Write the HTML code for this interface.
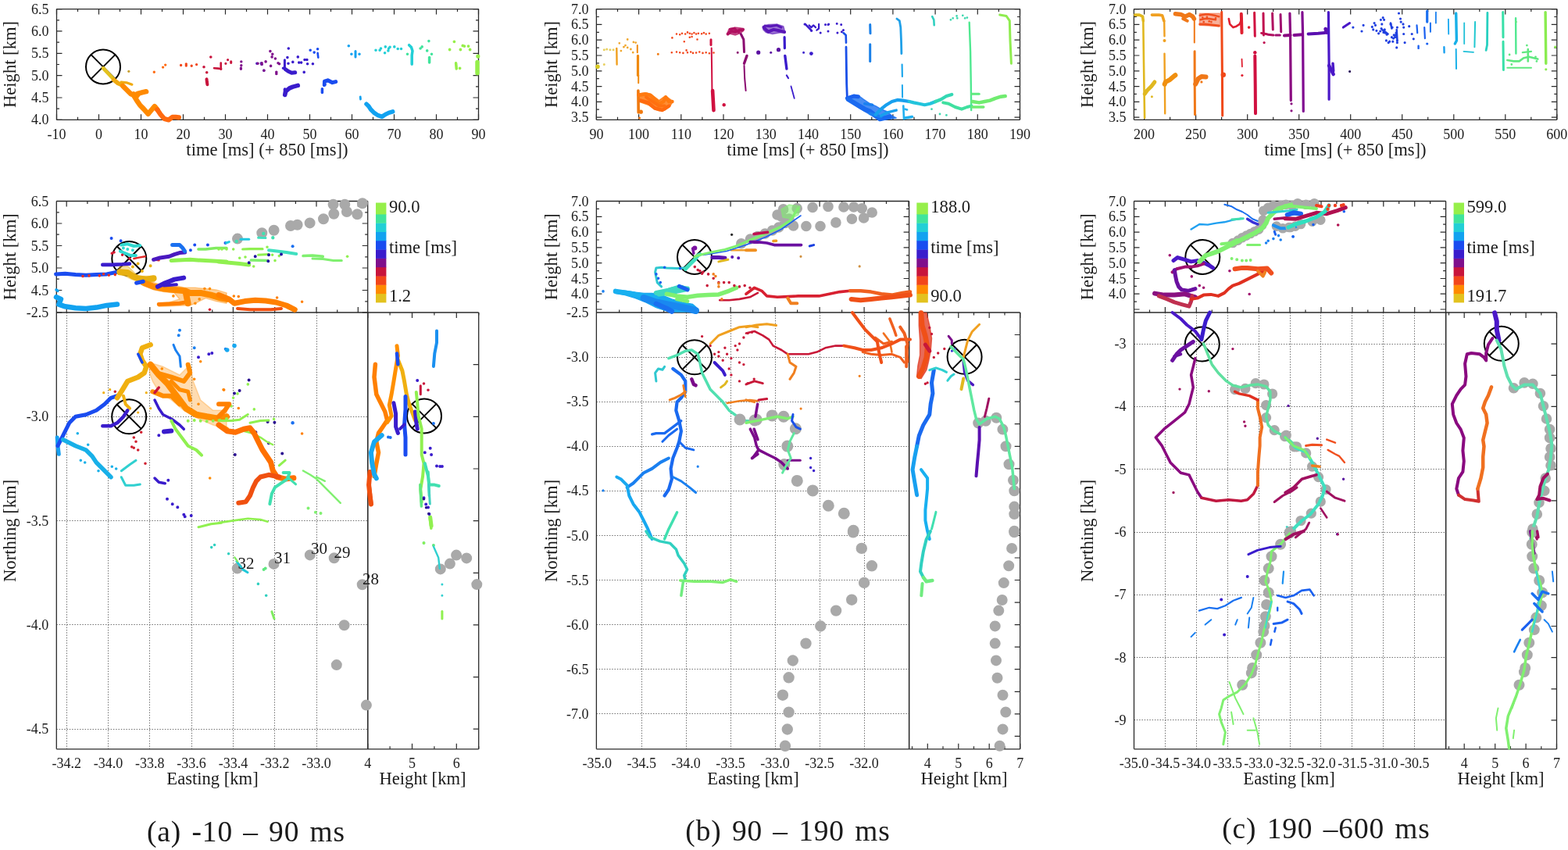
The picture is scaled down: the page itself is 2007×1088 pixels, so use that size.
<!DOCTYPE html><html><head><meta charset="utf-8"><title>figure</title><style>
html,body{margin:0;padding:0;background:#fff;overflow:hidden}
svg{display:block} text{font-family:'Liberation Serif', 'DejaVu Serif', serif;fill:#1a1a1a}
.fr{stroke:#2a2a2a;stroke-width:1.3;fill:none} .tk{stroke:#2a2a2a;stroke-width:1.2;fill:none}
.gr{stroke:#707070;stroke-width:1;stroke-dasharray:1.5 1.8;fill:none}
.cx{stroke:#000;stroke-width:2;fill:none}
</style></head><body>
<svg width="2007" height="1088" viewBox="0 0 2007 1088">
<rect width="2007" height="1088" fill="#fff"/>
<path d="M85.5 400.0V958.8M138.5 400.0V958.8M191.5 400.0V958.8M245.5 400.0V958.8M298.5 400.0V958.8M351.5 400.0V958.8M405.5 400.0V958.8" class="gr"/>
<path d="M72.3 933.5H470.7M72.3 799.5H470.7M72.3 666.5H470.7M72.3 533.5H470.7" class="gr"/>
<path d="M821.5 400.0V958.8M878.5 400.0V958.8M935.5 400.0V958.8M992.5 400.0V958.8M1049.5 400.0V958.8M1106.5 400.0V958.8" class="gr"/>
<path d="M763.4 913.5H1163.6M763.4 856.5H1163.6M763.4 799.5H1163.6M763.4 742.5H1163.6M763.4 685.5H1163.6M763.4 628.5H1163.6M763.4 571.5H1163.6M763.4 514.5H1163.6M763.4 457.5H1163.6" class="gr"/>
<path d="M1491.5 400.0V958.8M1531.5 400.0V958.8M1571.5 400.0V958.8M1611.5 400.0V958.8M1651.5 400.0V958.8M1690.5 400.0V958.8M1730.5 400.0V958.8M1770.5 400.0V958.8M1810.5 400.0V958.8" class="gr"/>
<path d="M1451.5 921.5H1850.6M1451.5 841.5H1850.6M1451.5 761.5H1850.6M1451.5 681.5H1850.6M1451.5 600.5H1850.6M1451.5 520.5H1850.6M1451.5 440.5H1850.6" class="gr"/>
<line x1="72.5" y1="11.6" x2="612.5" y2="11.6" class="fr"/>
<line x1="72.5" y1="153.3" x2="612.5" y2="153.3" class="fr"/>
<line x1="72.5" y1="11.6" x2="72.5" y2="153.3" class="fr"/>
<line x1="612.5" y1="11.6" x2="612.5" y2="153.3" class="fr"/>
<path d="M72.5 153.3v-7M72.5 11.6v7M126.5 153.3v-7M126.5 11.6v7M180.5 153.3v-7M180.5 11.6v7M234.5 153.3v-7M234.5 11.6v7M288.5 153.3v-7M288.5 11.6v7M342.5 153.3v-7M342.5 11.6v7M396.5 153.3v-7M396.5 11.6v7M450.5 153.3v-7M450.5 11.6v7M504.5 153.3v-7M504.5 11.6v7M558.5 153.3v-7M558.5 11.6v7M612.5 153.3v-7M612.5 11.6v7" class="tk"/>
<path d="M99.5 153.3v-3.5M99.5 11.6v3.5M153.5 153.3v-3.5M153.5 11.6v3.5M207.5 153.3v-3.5M207.5 11.6v3.5M261.5 153.3v-3.5M261.5 11.6v3.5M315.5 153.3v-3.5M315.5 11.6v3.5M369.5 153.3v-3.5M369.5 11.6v3.5M423.5 153.3v-3.5M423.5 11.6v3.5M477.5 153.3v-3.5M477.5 11.6v3.5M531.5 153.3v-3.5M531.5 11.6v3.5M585.5 153.3v-3.5M585.5 11.6v3.5" class="tk"/>
<path d="M72.5 153.3h7M612.5 153.3h-7M72.5 125.0h7M612.5 125.0h-7M72.5 96.6h7M612.5 96.6h-7M72.5 68.3h7M612.5 68.3h-7M72.5 39.9h7M612.5 39.9h-7M72.5 11.6h7M612.5 11.6h-7" class="tk"/>
<path d="M72.5 139.1h3.5M612.5 139.1h-3.5M72.5 110.8h3.5M612.5 110.8h-3.5M72.5 82.5h3.5M612.5 82.5h-3.5M72.5 54.1h3.5M612.5 54.1h-3.5M72.5 25.8h3.5M612.5 25.8h-3.5" class="tk"/>
<text x="72.5" y="178.3" font-size="18" text-anchor="middle">-10</text>
<text x="126.5" y="178.3" font-size="18" text-anchor="middle">0</text>
<text x="180.5" y="178.3" font-size="18" text-anchor="middle">10</text>
<text x="234.5" y="178.3" font-size="18" text-anchor="middle">20</text>
<text x="288.5" y="178.3" font-size="18" text-anchor="middle">30</text>
<text x="342.5" y="178.3" font-size="18" text-anchor="middle">40</text>
<text x="396.5" y="178.3" font-size="18" text-anchor="middle">50</text>
<text x="450.5" y="178.3" font-size="18" text-anchor="middle">60</text>
<text x="504.5" y="178.3" font-size="18" text-anchor="middle">70</text>
<text x="558.5" y="178.3" font-size="18" text-anchor="middle">80</text>
<text x="612.5" y="178.3" font-size="18" text-anchor="middle">90</text>
<text x="62.5" y="159.3" font-size="18" text-anchor="end">4.0</text>
<text x="62.5" y="131.0" font-size="18" text-anchor="end">4.5</text>
<text x="62.5" y="102.6" font-size="18" text-anchor="end">5.0</text>
<text x="62.5" y="74.3" font-size="18" text-anchor="end">5.5</text>
<text x="62.5" y="45.9" font-size="18" text-anchor="end">6.0</text>
<text x="62.5" y="17.6" font-size="18" text-anchor="end">6.5</text>
<text x="20.0" y="82.5" font-size="22.6" text-anchor="middle" transform="rotate(-90 20.0 82.5)">Height [km]</text>
<text x="342.0" y="199.3" font-size="22.6" text-anchor="middle">time [ms] (+ 850 [ms])</text>
<line x1="763.4" y1="11.6" x2="1305.5" y2="11.6" class="fr"/>
<line x1="763.4" y1="153.3" x2="1305.5" y2="153.3" class="fr"/>
<line x1="763.4" y1="11.6" x2="763.4" y2="153.3" class="fr"/>
<line x1="1305.5" y1="11.6" x2="1305.5" y2="153.3" class="fr"/>
<path d="M763.4 153.3v-7M763.4 11.6v7M817.6 153.3v-7M817.6 11.6v7M871.8 153.3v-7M871.8 11.6v7M926.0 153.3v-7M926.0 11.6v7M980.2 153.3v-7M980.2 11.6v7M1034.5 153.3v-7M1034.5 11.6v7M1088.7 153.3v-7M1088.7 11.6v7M1142.9 153.3v-7M1142.9 11.6v7M1197.1 153.3v-7M1197.1 11.6v7M1251.3 153.3v-7M1251.3 11.6v7M1305.5 153.3v-7M1305.5 11.6v7" class="tk"/>
<path d="M790.5 153.3v-3.5M790.5 11.6v3.5M844.7 153.3v-3.5M844.7 11.6v3.5M898.9 153.3v-3.5M898.9 11.6v3.5M953.1 153.3v-3.5M953.1 11.6v3.5M1007.3 153.3v-3.5M1007.3 11.6v3.5M1061.6 153.3v-3.5M1061.6 11.6v3.5M1115.8 153.3v-3.5M1115.8 11.6v3.5M1170.0 153.3v-3.5M1170.0 11.6v3.5M1224.2 153.3v-3.5M1224.2 11.6v3.5M1278.4 153.3v-3.5M1278.4 11.6v3.5" class="tk"/>
<path d="M763.4 150.1h7M1305.5 150.1h-7M763.4 130.3h7M1305.5 130.3h-7M763.4 110.6h7M1305.5 110.6h-7M763.4 90.8h7M1305.5 90.8h-7M763.4 71.0h7M1305.5 71.0h-7M763.4 51.2h7M1305.5 51.2h-7M763.4 31.4h7M1305.5 31.4h-7M763.4 11.6h7M1305.5 11.6h-7" class="tk"/>
<path d="M763.4 140.2h3.5M1305.5 140.2h-3.5M763.4 120.4h3.5M1305.5 120.4h-3.5M763.4 100.7h3.5M1305.5 100.7h-3.5M763.4 80.9h3.5M1305.5 80.9h-3.5M763.4 61.1h3.5M1305.5 61.1h-3.5M763.4 41.3h3.5M1305.5 41.3h-3.5M763.4 21.5h3.5M1305.5 21.5h-3.5" class="tk"/>
<text x="763.4" y="178.3" font-size="18" text-anchor="middle">90</text>
<text x="817.6" y="178.3" font-size="18" text-anchor="middle">100</text>
<text x="871.8" y="178.3" font-size="18" text-anchor="middle">110</text>
<text x="926.0" y="178.3" font-size="18" text-anchor="middle">120</text>
<text x="980.2" y="178.3" font-size="18" text-anchor="middle">130</text>
<text x="1034.5" y="178.3" font-size="18" text-anchor="middle">140</text>
<text x="1088.7" y="178.3" font-size="18" text-anchor="middle">150</text>
<text x="1142.9" y="178.3" font-size="18" text-anchor="middle">160</text>
<text x="1197.1" y="178.3" font-size="18" text-anchor="middle">170</text>
<text x="1251.3" y="178.3" font-size="18" text-anchor="middle">180</text>
<text x="1305.5" y="178.3" font-size="18" text-anchor="middle">190</text>
<text x="753.4" y="156.1" font-size="18" text-anchor="end">3.5</text>
<text x="753.4" y="136.3" font-size="18" text-anchor="end">4.0</text>
<text x="753.4" y="116.6" font-size="18" text-anchor="end">4.5</text>
<text x="753.4" y="96.8" font-size="18" text-anchor="end">5.0</text>
<text x="753.4" y="77.0" font-size="18" text-anchor="end">5.5</text>
<text x="753.4" y="57.2" font-size="18" text-anchor="end">6.0</text>
<text x="753.4" y="37.4" font-size="18" text-anchor="end">6.5</text>
<text x="753.4" y="17.6" font-size="18" text-anchor="end">7.0</text>
<text x="713.0" y="82.5" font-size="22.6" text-anchor="middle" transform="rotate(-90 713.0 82.5)">Height [km]</text>
<text x="1034.0" y="199.3" font-size="22.6" text-anchor="middle">time [ms] (+ 850 [ms])</text>
<line x1="1451.4" y1="11.6" x2="1992.8" y2="11.6" class="fr"/>
<line x1="1451.4" y1="153.3" x2="1992.8" y2="153.3" class="fr"/>
<line x1="1451.4" y1="11.6" x2="1451.4" y2="153.3" class="fr"/>
<line x1="1992.8" y1="11.6" x2="1992.8" y2="153.3" class="fr"/>
<path d="M1464.6 153.3v-7M1464.6 11.6v7M1530.6 153.3v-7M1530.6 11.6v7M1596.7 153.3v-7M1596.7 11.6v7M1662.7 153.3v-7M1662.7 11.6v7M1728.7 153.3v-7M1728.7 11.6v7M1794.7 153.3v-7M1794.7 11.6v7M1860.8 153.3v-7M1860.8 11.6v7M1926.8 153.3v-7M1926.8 11.6v7M1992.8 153.3v-7M1992.8 11.6v7" class="tk"/>
<path d="M1497.6 153.3v-3.5M1497.6 11.6v3.5M1563.6 153.3v-3.5M1563.6 11.6v3.5M1629.7 153.3v-3.5M1629.7 11.6v3.5M1695.7 153.3v-3.5M1695.7 11.6v3.5M1761.7 153.3v-3.5M1761.7 11.6v3.5M1827.7 153.3v-3.5M1827.7 11.6v3.5M1893.8 153.3v-3.5M1893.8 11.6v3.5M1959.8 153.3v-3.5M1959.8 11.6v3.5" class="tk"/>
<path d="M1451.4 150.1h7M1992.8 150.1h-7M1451.4 130.3h7M1992.8 130.3h-7M1451.4 110.6h7M1992.8 110.6h-7M1451.4 90.8h7M1992.8 90.8h-7M1451.4 71.0h7M1992.8 71.0h-7M1451.4 51.2h7M1992.8 51.2h-7M1451.4 31.4h7M1992.8 31.4h-7M1451.4 11.6h7M1992.8 11.6h-7" class="tk"/>
<path d="M1451.4 140.2h3.5M1992.8 140.2h-3.5M1451.4 120.4h3.5M1992.8 120.4h-3.5M1451.4 100.7h3.5M1992.8 100.7h-3.5M1451.4 80.9h3.5M1992.8 80.9h-3.5M1451.4 61.1h3.5M1992.8 61.1h-3.5M1451.4 41.3h3.5M1992.8 41.3h-3.5M1451.4 21.5h3.5M1992.8 21.5h-3.5" class="tk"/>
<text x="1464.6" y="178.3" font-size="18" text-anchor="middle">200</text>
<text x="1530.6" y="178.3" font-size="18" text-anchor="middle">250</text>
<text x="1596.7" y="178.3" font-size="18" text-anchor="middle">300</text>
<text x="1662.7" y="178.3" font-size="18" text-anchor="middle">350</text>
<text x="1728.7" y="178.3" font-size="18" text-anchor="middle">400</text>
<text x="1794.7" y="178.3" font-size="18" text-anchor="middle">450</text>
<text x="1860.8" y="178.3" font-size="18" text-anchor="middle">500</text>
<text x="1926.8" y="178.3" font-size="18" text-anchor="middle">550</text>
<text x="1992.8" y="178.3" font-size="18" text-anchor="middle">600</text>
<text x="1441.4" y="156.1" font-size="18" text-anchor="end">3.5</text>
<text x="1441.4" y="136.3" font-size="18" text-anchor="end">4.0</text>
<text x="1441.4" y="116.6" font-size="18" text-anchor="end">4.5</text>
<text x="1441.4" y="96.8" font-size="18" text-anchor="end">5.0</text>
<text x="1441.4" y="77.0" font-size="18" text-anchor="end">5.5</text>
<text x="1441.4" y="57.2" font-size="18" text-anchor="end">6.0</text>
<text x="1441.4" y="37.4" font-size="18" text-anchor="end">6.5</text>
<text x="1441.4" y="17.6" font-size="18" text-anchor="end">7.0</text>
<text x="1399.0" y="82.5" font-size="22.6" text-anchor="middle" transform="rotate(-90 1399.0 82.5)">Height [km]</text>
<text x="1722.0" y="199.3" font-size="22.6" text-anchor="middle">time [ms] (+ 850 [ms])</text>
<line x1="72.3" y1="257.5" x2="470.7" y2="257.5" class="fr"/>
<line x1="72.3" y1="257.5" x2="72.3" y2="400.0" class="fr"/>
<line x1="470.7" y1="257.5" x2="470.7" y2="400.0" class="fr"/>
<path d="M85.2 400.0v-7M85.2 257.5v7M138.5 400.0v-7M138.5 257.5v7M191.8 400.0v-7M191.8 257.5v7M245.1 400.0v-7M245.1 257.5v7M298.4 400.0v-7M298.4 257.5v7M351.7 400.0v-7M351.7 257.5v7M405.0 400.0v-7M405.0 257.5v7M458.3 400.0v-7M458.3 257.5v7" class="tk"/>
<path d="M111.9 400.0v-3.5M111.9 257.5v3.5M165.2 400.0v-3.5M165.2 257.5v3.5M218.5 400.0v-3.5M218.5 257.5v3.5M271.8 400.0v-3.5M271.8 257.5v3.5M325.1 400.0v-3.5M325.1 257.5v3.5M378.4 400.0v-3.5M378.4 257.5v3.5M431.7 400.0v-3.5M431.7 257.5v3.5" class="tk"/>
<path d="M72.3 400.0h7M470.7 400.0h-7M72.3 371.5h7M470.7 371.5h-7M72.3 343.0h7M470.7 343.0h-7M72.3 314.5h7M470.7 314.5h-7M72.3 286.0h7M470.7 286.0h-7M72.3 257.5h7M470.7 257.5h-7" class="tk"/>
<path d="M72.3 385.8h3.5M470.7 385.8h-3.5M72.3 357.2h3.5M470.7 357.2h-3.5M72.3 328.8h3.5M470.7 328.8h-3.5M72.3 300.2h3.5M470.7 300.2h-3.5M72.3 271.8h3.5M470.7 271.8h-3.5" class="tk"/>
<text x="62.3" y="377.5" font-size="18" text-anchor="end">4.5</text>
<text x="62.3" y="349.0" font-size="18" text-anchor="end">5.0</text>
<text x="62.3" y="320.5" font-size="18" text-anchor="end">5.5</text>
<text x="62.3" y="292.0" font-size="18" text-anchor="end">6.0</text>
<text x="62.3" y="263.5" font-size="18" text-anchor="end">6.5</text>
<text x="20.0" y="328.8" font-size="22.6" text-anchor="middle" transform="rotate(-90 20.0 328.8)">Height [km]</text>
<line x1="72.3" y1="400.0" x2="470.7" y2="400.0" class="fr"/>
<line x1="72.3" y1="958.8" x2="470.7" y2="958.8" class="fr"/>
<line x1="72.3" y1="400.0" x2="72.3" y2="958.8" class="fr"/>
<line x1="470.7" y1="400.0" x2="470.7" y2="958.8" class="fr"/>
<text x="85.2" y="982.8" font-size="18" text-anchor="middle">-34.2</text>
<text x="138.5" y="982.8" font-size="18" text-anchor="middle">-34.0</text>
<text x="191.8" y="982.8" font-size="18" text-anchor="middle">-33.8</text>
<text x="245.1" y="982.8" font-size="18" text-anchor="middle">-33.6</text>
<text x="298.4" y="982.8" font-size="18" text-anchor="middle">-33.4</text>
<text x="351.7" y="982.8" font-size="18" text-anchor="middle">-33.2</text>
<text x="405.0" y="982.8" font-size="18" text-anchor="middle">-33.0</text>
<text x="62.3" y="939.2" font-size="18" text-anchor="end">-4.5</text>
<text x="62.3" y="805.9" font-size="18" text-anchor="end">-4.0</text>
<text x="62.3" y="672.6" font-size="18" text-anchor="end">-3.5</text>
<text x="62.3" y="539.3" font-size="18" text-anchor="end">-3.0</text>
<text x="62.3" y="406.0" font-size="18" text-anchor="end">-2.5</text>
<text x="20.0" y="679.4" font-size="22.6" text-anchor="middle" transform="rotate(-90 20.0 679.4)">Northing [km]</text>
<text x="272.0" y="1003.8" font-size="22.6" text-anchor="middle">Easting [km]</text>
<line x1="470.7" y1="400.0" x2="612.7" y2="400.0" class="fr"/>
<line x1="470.7" y1="958.8" x2="612.7" y2="958.8" class="fr"/>
<line x1="470.7" y1="400.0" x2="470.7" y2="958.8" class="fr"/>
<line x1="612.7" y1="400.0" x2="612.7" y2="958.8" class="fr"/>
<path d="M470.7 958.8v-7M470.7 400.0v7M527.5 958.8v-7M527.5 400.0v7M584.3 958.8v-7M584.3 400.0v7" class="tk"/>
<path d="M499.1 958.8v-3.5M499.1 400.0v3.5M555.9 958.8v-3.5M555.9 400.0v3.5M612.7 958.8v-3.5M612.7 400.0v3.5" class="tk"/>
<path d="M612.7 933.2h-7M612.7 866.6h-7M612.7 799.9h-7M612.7 733.3h-7M612.7 666.6h-7M612.7 600.0h-7M612.7 533.3h-7M612.7 466.7h-7" class="tk"/>
<text x="470.7" y="982.8" font-size="18" text-anchor="middle">4</text>
<text x="527.5" y="982.8" font-size="18" text-anchor="middle">5</text>
<text x="584.3" y="982.8" font-size="18" text-anchor="middle">6</text>
<text x="541.0" y="1003.8" font-size="22.6" text-anchor="middle">Height [km]</text>
<rect x="481.0" y="375.70" width="13.4" height="11.70" fill="#e3c21f"/>
<rect x="481.0" y="364.40" width="13.4" height="11.70" fill="#ff8a00"/>
<rect x="481.0" y="353.10" width="13.4" height="11.70" fill="#f2461a"/>
<rect x="481.0" y="341.80" width="13.4" height="11.70" fill="#c8143c"/>
<rect x="481.0" y="330.50" width="13.4" height="11.70" fill="#7f0f8c"/>
<rect x="481.0" y="319.20" width="13.4" height="11.70" fill="#3a1ccc"/>
<rect x="481.0" y="307.90" width="13.4" height="11.70" fill="#1a4cf0"/>
<rect x="481.0" y="296.60" width="13.4" height="11.70" fill="#12a2f0"/>
<rect x="481.0" y="285.30" width="13.4" height="11.70" fill="#22cfd6"/>
<rect x="481.0" y="274.00" width="13.4" height="11.70" fill="#40e49c"/>
<rect x="481.0" y="259.50" width="13.4" height="14.90" fill="#96ef4a"/>
<text x="497.9" y="271.5" font-size="22.6" text-anchor="start">90.0</text>
<text x="497.9" y="323.6" font-size="22.6" text-anchor="start">time [ms]</text>
<text x="497.9" y="386.0" font-size="22.6" text-anchor="start">1.2</text>
<line x1="763.4" y1="257.5" x2="1163.6" y2="257.5" class="fr"/>
<line x1="763.4" y1="257.5" x2="763.4" y2="400.0" class="fr"/>
<line x1="1163.6" y1="257.5" x2="1163.6" y2="400.0" class="fr"/>
<path d="M821.2 400.0v-7M821.2 257.5v7M878.1 400.0v-7M878.1 257.5v7M935.1 400.0v-7M935.1 257.5v7M992.1 400.0v-7M992.1 257.5v7M1049.1 400.0v-7M1049.1 257.5v7M1106.1 400.0v-7M1106.1 257.5v7M1163.0 400.0v-7M1163.0 257.5v7" class="tk"/>
<path d="M792.7 400.0v-3.5M792.7 257.5v3.5M849.7 400.0v-3.5M849.7 257.5v3.5M906.6 400.0v-3.5M906.6 257.5v3.5M963.6 400.0v-3.5M963.6 257.5v3.5M1020.6 400.0v-3.5M1020.6 257.5v3.5M1077.6 400.0v-3.5M1077.6 257.5v3.5M1134.5 400.0v-3.5M1134.5 257.5v3.5" class="tk"/>
<path d="M763.4 396.0h7M1163.6 396.0h-7M763.4 376.2h7M1163.6 376.2h-7M763.4 356.5h7M1163.6 356.5h-7M763.4 336.7h7M1163.6 336.7h-7M763.4 316.9h7M1163.6 316.9h-7M763.4 297.1h7M1163.6 297.1h-7M763.4 277.3h7M1163.6 277.3h-7M763.4 257.5h7M1163.6 257.5h-7" class="tk"/>
<path d="M763.4 386.1h3.5M1163.6 386.1h-3.5M763.4 366.4h3.5M1163.6 366.4h-3.5M763.4 346.6h3.5M1163.6 346.6h-3.5M763.4 326.8h3.5M1163.6 326.8h-3.5M763.4 307.0h3.5M1163.6 307.0h-3.5M763.4 287.2h3.5M1163.6 287.2h-3.5M763.4 267.4h3.5M1163.6 267.4h-3.5" class="tk"/>
<text x="753.4" y="382.2" font-size="18" text-anchor="end">4.0</text>
<text x="753.4" y="362.5" font-size="18" text-anchor="end">4.5</text>
<text x="753.4" y="342.7" font-size="18" text-anchor="end">5.0</text>
<text x="753.4" y="322.9" font-size="18" text-anchor="end">5.5</text>
<text x="753.4" y="303.1" font-size="18" text-anchor="end">6.0</text>
<text x="753.4" y="283.3" font-size="18" text-anchor="end">6.5</text>
<text x="753.4" y="263.5" font-size="18" text-anchor="end">7.0</text>
<text x="713.0" y="328.8" font-size="22.6" text-anchor="middle" transform="rotate(-90 713.0 328.8)">Height [km]</text>
<line x1="763.4" y1="400.0" x2="1163.6" y2="400.0" class="fr"/>
<line x1="763.4" y1="958.8" x2="1163.6" y2="958.8" class="fr"/>
<line x1="763.4" y1="400.0" x2="763.4" y2="958.8" class="fr"/>
<line x1="1163.6" y1="400.0" x2="1163.6" y2="958.8" class="fr"/>
<text x="764.2" y="982.8" font-size="18" text-anchor="middle">-35.0</text>
<text x="821.2" y="982.8" font-size="18" text-anchor="middle">-34.5</text>
<text x="878.1" y="982.8" font-size="18" text-anchor="middle">-34.0</text>
<text x="935.1" y="982.8" font-size="18" text-anchor="middle">-33.5</text>
<text x="992.1" y="982.8" font-size="18" text-anchor="middle">-33.0</text>
<text x="1049.1" y="982.8" font-size="18" text-anchor="middle">-32.5</text>
<text x="1106.1" y="982.8" font-size="18" text-anchor="middle">-32.0</text>
<text x="753.4" y="919.8" font-size="18" text-anchor="end">-7.0</text>
<text x="753.4" y="862.7" font-size="18" text-anchor="end">-6.5</text>
<text x="753.4" y="805.6" font-size="18" text-anchor="end">-6.0</text>
<text x="753.4" y="748.5" font-size="18" text-anchor="end">-5.5</text>
<text x="753.4" y="691.5" font-size="18" text-anchor="end">-5.0</text>
<text x="753.4" y="634.4" font-size="18" text-anchor="end">-4.5</text>
<text x="753.4" y="577.3" font-size="18" text-anchor="end">-4.0</text>
<text x="753.4" y="520.2" font-size="18" text-anchor="end">-3.5</text>
<text x="753.4" y="463.1" font-size="18" text-anchor="end">-3.0</text>
<text x="753.4" y="406.0" font-size="18" text-anchor="end">-2.5</text>
<text x="713.0" y="679.4" font-size="22.6" text-anchor="middle" transform="rotate(-90 713.0 679.4)">Northing [km]</text>
<text x="964.0" y="1003.8" font-size="22.6" text-anchor="middle">Easting [km]</text>
<line x1="1163.6" y1="400.0" x2="1305.7" y2="400.0" class="fr"/>
<line x1="1163.6" y1="958.8" x2="1305.7" y2="958.8" class="fr"/>
<line x1="1163.6" y1="400.0" x2="1163.6" y2="958.8" class="fr"/>
<line x1="1305.7" y1="400.0" x2="1305.7" y2="958.8" class="fr"/>
<path d="M1187.3 958.8v-7M1187.3 400.0v7M1226.8 958.8v-7M1226.8 400.0v7M1266.2 958.8v-7M1266.2 400.0v7M1305.7 958.8v-7M1305.7 400.0v7" class="tk"/>
<path d="M1167.5 958.8v-3.5M1167.5 400.0v3.5M1207.0 958.8v-3.5M1207.0 400.0v3.5M1246.5 958.8v-3.5M1246.5 400.0v3.5M1286.0 958.8v-3.5M1286.0 400.0v3.5" class="tk"/>
<path d="M1305.7 942.4h-7M1305.7 913.8h-7M1305.7 885.3h-7M1305.7 856.7h-7M1305.7 828.2h-7M1305.7 799.6h-7M1305.7 771.1h-7M1305.7 742.5h-7M1305.7 714.0h-7M1305.7 685.5h-7M1305.7 656.9h-7M1305.7 628.4h-7M1305.7 599.8h-7M1305.7 571.3h-7M1305.7 542.7h-7M1305.7 514.2h-7M1305.7 485.6h-7M1305.7 457.1h-7M1305.7 428.5h-7" class="tk"/>
<text x="1187.3" y="982.8" font-size="18" text-anchor="middle">4</text>
<text x="1226.8" y="982.8" font-size="18" text-anchor="middle">5</text>
<text x="1266.2" y="982.8" font-size="18" text-anchor="middle">6</text>
<text x="1305.7" y="982.8" font-size="18" text-anchor="middle">7</text>
<text x="1234.0" y="1003.8" font-size="22.6" text-anchor="middle">Height [km]</text>
<rect x="1173.3" y="375.70" width="14.5" height="11.70" fill="#e3c21f"/>
<rect x="1173.3" y="364.40" width="14.5" height="11.70" fill="#ff8a00"/>
<rect x="1173.3" y="353.10" width="14.5" height="11.70" fill="#f2461a"/>
<rect x="1173.3" y="341.80" width="14.5" height="11.70" fill="#c8143c"/>
<rect x="1173.3" y="330.50" width="14.5" height="11.70" fill="#7f0f8c"/>
<rect x="1173.3" y="319.20" width="14.5" height="11.70" fill="#3a1ccc"/>
<rect x="1173.3" y="307.90" width="14.5" height="11.70" fill="#1a4cf0"/>
<rect x="1173.3" y="296.60" width="14.5" height="11.70" fill="#12a2f0"/>
<rect x="1173.3" y="285.30" width="14.5" height="11.70" fill="#22cfd6"/>
<rect x="1173.3" y="274.00" width="14.5" height="11.70" fill="#40e49c"/>
<rect x="1173.3" y="259.50" width="14.5" height="14.90" fill="#96ef4a"/>
<text x="1191.3" y="271.5" font-size="22.6" text-anchor="start">188.0</text>
<text x="1191.3" y="323.6" font-size="22.6" text-anchor="start">time [ms]</text>
<text x="1191.3" y="386.0" font-size="22.6" text-anchor="start">90.0</text>
<line x1="1451.5" y1="257.5" x2="1850.6" y2="257.5" class="fr"/>
<line x1="1451.5" y1="257.5" x2="1451.5" y2="400.0" class="fr"/>
<line x1="1850.6" y1="257.5" x2="1850.6" y2="400.0" class="fr"/>
<path d="M1491.4 400.0v-7M1491.4 257.5v7M1531.3 400.0v-7M1531.3 257.5v7M1571.2 400.0v-7M1571.2 257.5v7M1611.1 400.0v-7M1611.1 257.5v7M1651.0 400.0v-7M1651.0 257.5v7M1691.0 400.0v-7M1691.0 257.5v7M1730.9 400.0v-7M1730.9 257.5v7M1770.8 400.0v-7M1770.8 257.5v7M1810.7 400.0v-7M1810.7 257.5v7" class="tk"/>
<path d="M1471.5 400.0v-3.5M1471.5 257.5v3.5M1511.4 400.0v-3.5M1511.4 257.5v3.5M1551.3 400.0v-3.5M1551.3 257.5v3.5M1591.2 400.0v-3.5M1591.2 257.5v3.5M1631.1 400.0v-3.5M1631.1 257.5v3.5M1671.0 400.0v-3.5M1671.0 257.5v3.5M1710.9 400.0v-3.5M1710.9 257.5v3.5M1750.8 400.0v-3.5M1750.8 257.5v3.5M1790.7 400.0v-3.5M1790.7 257.5v3.5M1830.6 400.0v-3.5M1830.6 257.5v3.5" class="tk"/>
<path d="M1451.5 396.0h7M1850.6 396.0h-7M1451.5 376.2h7M1850.6 376.2h-7M1451.5 356.5h7M1850.6 356.5h-7M1451.5 336.7h7M1850.6 336.7h-7M1451.5 316.9h7M1850.6 316.9h-7M1451.5 297.1h7M1850.6 297.1h-7M1451.5 277.3h7M1850.6 277.3h-7M1451.5 257.5h7M1850.6 257.5h-7" class="tk"/>
<path d="M1451.5 386.1h3.5M1850.6 386.1h-3.5M1451.5 366.4h3.5M1850.6 366.4h-3.5M1451.5 346.6h3.5M1850.6 346.6h-3.5M1451.5 326.8h3.5M1850.6 326.8h-3.5M1451.5 307.0h3.5M1850.6 307.0h-3.5M1451.5 287.2h3.5M1850.6 287.2h-3.5M1451.5 267.4h3.5M1850.6 267.4h-3.5" class="tk"/>
<text x="1441.5" y="382.2" font-size="18" text-anchor="end">4.0</text>
<text x="1441.5" y="362.5" font-size="18" text-anchor="end">4.5</text>
<text x="1441.5" y="342.7" font-size="18" text-anchor="end">5.0</text>
<text x="1441.5" y="322.9" font-size="18" text-anchor="end">5.5</text>
<text x="1441.5" y="303.1" font-size="18" text-anchor="end">6.0</text>
<text x="1441.5" y="283.3" font-size="18" text-anchor="end">6.5</text>
<text x="1441.5" y="263.5" font-size="18" text-anchor="end">7.0</text>
<text x="1399.0" y="328.8" font-size="22.6" text-anchor="middle" transform="rotate(-90 1399.0 328.8)">Height [km]</text>
<line x1="1451.5" y1="400.0" x2="1850.6" y2="400.0" class="fr"/>
<line x1="1451.5" y1="958.8" x2="1850.6" y2="958.8" class="fr"/>
<line x1="1451.5" y1="400.0" x2="1451.5" y2="958.8" class="fr"/>
<line x1="1850.6" y1="400.0" x2="1850.6" y2="958.8" class="fr"/>
<text x="1451.5" y="982.8" font-size="18" text-anchor="middle">-35.0</text>
<text x="1491.4" y="982.8" font-size="18" text-anchor="middle">-34.5</text>
<text x="1531.3" y="982.8" font-size="18" text-anchor="middle">-34.0</text>
<text x="1571.2" y="982.8" font-size="18" text-anchor="middle">-33.5</text>
<text x="1611.1" y="982.8" font-size="18" text-anchor="middle">-33.0</text>
<text x="1651.0" y="982.8" font-size="18" text-anchor="middle">-32.5</text>
<text x="1691.0" y="982.8" font-size="18" text-anchor="middle">-32.0</text>
<text x="1730.9" y="982.8" font-size="18" text-anchor="middle">-31.5</text>
<text x="1770.8" y="982.8" font-size="18" text-anchor="middle">-31.0</text>
<text x="1810.7" y="982.8" font-size="18" text-anchor="middle">-30.5</text>
<text x="1441.5" y="927.9" font-size="18" text-anchor="end">-9</text>
<text x="1441.5" y="847.6" font-size="18" text-anchor="end">-8</text>
<text x="1441.5" y="767.3" font-size="18" text-anchor="end">-7</text>
<text x="1441.5" y="687.0" font-size="18" text-anchor="end">-6</text>
<text x="1441.5" y="606.7" font-size="18" text-anchor="end">-5</text>
<text x="1441.5" y="526.4" font-size="18" text-anchor="end">-4</text>
<text x="1441.5" y="446.1" font-size="18" text-anchor="end">-3</text>
<text x="1399.0" y="679.4" font-size="22.6" text-anchor="middle" transform="rotate(-90 1399.0 679.4)">Northing [km]</text>
<text x="1650.0" y="1003.8" font-size="22.6" text-anchor="middle">Easting [km]</text>
<line x1="1850.6" y1="400.0" x2="1992.5" y2="400.0" class="fr"/>
<line x1="1850.6" y1="958.8" x2="1992.5" y2="958.8" class="fr"/>
<line x1="1850.6" y1="400.0" x2="1850.6" y2="958.8" class="fr"/>
<line x1="1992.5" y1="400.0" x2="1992.5" y2="958.8" class="fr"/>
<path d="M1874.2 958.8v-7M1874.2 400.0v7M1913.7 958.8v-7M1913.7 400.0v7M1953.1 958.8v-7M1953.1 400.0v7M1992.5 958.8v-7M1992.5 400.0v7" class="tk"/>
<path d="M1854.5 958.8v-3.5M1854.5 400.0v3.5M1894.0 958.8v-3.5M1894.0 400.0v3.5M1933.4 958.8v-3.5M1933.4 400.0v3.5M1972.8 958.8v-3.5M1972.8 400.0v3.5" class="tk"/>
<path d="M1992.5 921.9h-7M1992.5 881.8h-7M1992.5 841.6h-7M1992.5 801.5h-7M1992.5 761.3h-7M1992.5 721.2h-7M1992.5 681.0h-7M1992.5 640.9h-7M1992.5 600.7h-7M1992.5 560.6h-7M1992.5 520.4h-7M1992.5 480.3h-7M1992.5 440.1h-7" class="tk"/>
<text x="1874.2" y="982.8" font-size="18" text-anchor="middle">4</text>
<text x="1913.7" y="982.8" font-size="18" text-anchor="middle">5</text>
<text x="1953.1" y="982.8" font-size="18" text-anchor="middle">6</text>
<text x="1992.5" y="982.8" font-size="18" text-anchor="middle">7</text>
<text x="1921.0" y="1003.8" font-size="22.6" text-anchor="middle">Height [km]</text>
<rect x="1860.6" y="375.70" width="13.4" height="11.70" fill="#e3c21f"/>
<rect x="1860.6" y="364.40" width="13.4" height="11.70" fill="#ff8a00"/>
<rect x="1860.6" y="353.10" width="13.4" height="11.70" fill="#f2461a"/>
<rect x="1860.6" y="341.80" width="13.4" height="11.70" fill="#c8143c"/>
<rect x="1860.6" y="330.50" width="13.4" height="11.70" fill="#7f0f8c"/>
<rect x="1860.6" y="319.20" width="13.4" height="11.70" fill="#3a1ccc"/>
<rect x="1860.6" y="307.90" width="13.4" height="11.70" fill="#1a4cf0"/>
<rect x="1860.6" y="296.60" width="13.4" height="11.70" fill="#12a2f0"/>
<rect x="1860.6" y="285.30" width="13.4" height="11.70" fill="#22cfd6"/>
<rect x="1860.6" y="274.00" width="13.4" height="11.70" fill="#40e49c"/>
<rect x="1860.6" y="259.50" width="13.4" height="14.90" fill="#96ef4a"/>
<text x="1877.5" y="271.5" font-size="22.6" text-anchor="start">599.0</text>
<text x="1877.5" y="323.6" font-size="22.6" text-anchor="start">time [ms]</text>
<text x="1877.5" y="386.0" font-size="22.6" text-anchor="start">191.7</text>
<text x="315" y="1077" font-size="37.4" text-anchor="middle" style="letter-spacing:0.9px;word-spacing:3px">(a) -10 – 90 ms</text>
<text x="1008.5" y="1076" font-size="37.4" text-anchor="middle" style="letter-spacing:0.9px;word-spacing:3px">(b) 90 – 190 ms</text>
<text x="1697.5" y="1072.7" font-size="37.4" text-anchor="middle" style="letter-spacing:0.9px;word-spacing:3px">(c) 190 –600 ms</text>
<circle cx="165.3" cy="330.9" r="22" class="cx"/>
<path d="M149.7 315.3L180.9 346.5M180.9 315.3L149.7 346.5" class="cx"/>
<path d="M152.6 341.6L163.3 340.3L171.3 348.3L176.6 353.6L187.3 353.6L196.6 353.6L197.9 360.3L187.3 361.6L176.6 360.3L168.6 357.6L160.6 353.6L152.6 350.9Z" fill="#e8b010" fill-opacity="0.4" stroke-opacity="0.4" stroke="#e8b010" stroke-width="1.5" stroke-linejoin="round"/>
<path d="M183.3 358.9L196.6 361.6L209.9 365.6L223.2 365.6L236.6 368.3L249.9 368.3L263.2 369.6L276.5 370.9L290.0 374.9L290.0 388.3L276.5 385.6L263.2 381.6L249.9 388.3L243.2 390.9L236.6 390.9L203.3 392.3L201.9 388.3L216.6 386.9L229.9 382.9L223.2 374.9L209.9 373.6L196.6 370.9L183.3 365.6Z" fill="#ff8c00" fill-opacity="0.4" stroke-opacity="0.4" stroke="#ff8c00" stroke-width="1.5" stroke-linejoin="round"/>
<path d="M71.6 350.9L83.3 350.3L96.7 351.6L110.0 352.3L123.3 351.6L136.6 350.9L150.0 348.3" stroke="#1a4cf0" stroke-width="5.0" fill="none" stroke-linecap="round" stroke-linejoin="round"/>
<path d="M106.0 353.6h0M114.0 352.9h0M127.3 352.9h0M132.6 350.7h0M139.3 352.3h0M147.3 351.6h0" stroke="#e83020" stroke-width="3.6" fill="none" stroke-linecap="round"/>
<path d="M131.3 338.9L143.3 338.9L156.6 338.3L165.9 337.6" stroke="#3a1ccc" stroke-width="4.6" fill="none" stroke-linecap="round" stroke-linejoin="round"/>
<path d="M72.0 370.9L74.0 372.3" stroke="#12a2f0" stroke-width="3.5" fill="none" stroke-linecap="round" stroke-linejoin="round"/>
<path d="M72.0 380.3L78.0 382.9L75.3 389.6L83.3 392.3L96.7 394.2L110.0 394.9L123.3 393.6L136.6 390.9L150.0 389.6" stroke="#12a2f0" stroke-width="6.5" fill="none" stroke-linecap="round" stroke-linejoin="round"/>
<path d="M155.3 313.6L163.3 312.3L171.3 315.0L179.3 314.3" stroke="#30d8d0" stroke-width="4.0" fill="none" stroke-linecap="round" stroke-linejoin="round"/>
<path d="M153.9 321.6L160.6 324.3L167.3 327.0L173.9 327.0" stroke="#30d8d0" stroke-width="4.0" fill="none" stroke-linecap="round" stroke-linejoin="round"/>
<path d="M163.3 319.0h0M169.9 320.3h0M157.9 317.6h0" stroke="#30d8d0" stroke-width="4.0" fill="none" stroke-linecap="round"/>
<path d="M143.3 324.3h0M146.0 323.0h0M156.6 326.3h0M165.9 331.0h0" stroke="#d81830" stroke-width="3.6" fill="none" stroke-linecap="round"/>
<path d="M171.3 331.0L177.9 329.6L185.9 328.3" stroke="#e02828" stroke-width="2.4" fill="none" stroke-linecap="round" stroke-linejoin="round"/>
<path d="M196.6 332.0L203.3 333.0" stroke="#e02828" stroke-width="3.0" fill="none" stroke-linecap="round" stroke-linejoin="round"/>
<path d="M153.3 348.3L163.3 348.9L169.9 353.6L176.6 356.3L187.3 357.6L196.6 356.3" stroke="#e8b010" stroke-width="8.0" fill="none" stroke-linecap="round" stroke-linejoin="round"/>
<path d="M169.9 341.6h0M176.6 337.6h0M192.6 340.3h0M181.9 346.9h0" stroke="#e8b010" stroke-width="4.0" fill="none" stroke-linecap="round"/>
<path d="M183.3 361.6L196.6 366.9L209.9 369.6L223.2 370.9L236.6 372.3L243.2 374.9L256.6 374.9L269.9 377.6L283.2 381.6L290.0 382.9" stroke="#ff8c00" stroke-width="8.0" fill="none" stroke-linecap="round" stroke-linejoin="round"/>
<path d="M203.3 389.6L216.6 388.9L229.9 388.3L237.9 386.9" stroke="#ff8000" stroke-width="5.0" fill="none" stroke-linecap="round" stroke-linejoin="round"/>
<path d="M237.9 374.9L240.6 388.3" stroke="#ff8800" stroke-width="8.0" fill="none" stroke-linecap="round" stroke-linejoin="round"/>
<path d="M221.9 378.9h0M249.9 388.3h0M255.2 382.9h0M261.9 369.6h0M268.5 369.6h0" stroke="#ff8c00" stroke-width="3.6" fill="none" stroke-linecap="round"/>
<path d="M174.6 362.3L183.3 360.3" stroke="#1a4cf0" stroke-width="5.0" fill="none" stroke-linecap="round" stroke-linejoin="round"/>
<path d="M201.9 366.9L209.9 362.9L216.6 360.3L223.2 357.6L235.2 355.6" stroke="#3a1ccc" stroke-width="6.0" fill="none" stroke-linecap="round" stroke-linejoin="round"/>
<path d="M209.9 365.6L225.9 364.3" stroke="#3a1ccc" stroke-width="4.0" fill="none" stroke-linecap="round" stroke-linejoin="round"/>
<path d="M196.6 332.3L203.3 330.3L216.6 328.3L223.2 325.6L229.9 323.6L236.6 323.0" stroke="#4a18c0" stroke-width="5.0" fill="none" stroke-linecap="round" stroke-linejoin="round"/>
<path d="M220.6 313.6L229.9 313.6L233.9 317.6L236.6 321.6" stroke="#1a70f0" stroke-width="5.0" fill="none" stroke-linecap="round" stroke-linejoin="round"/>
<path d="M219.2 333.6L243.2 332.3L263.2 333.6L290.0 335.0" stroke="#90f050" stroke-width="5.0" fill="none" stroke-linecap="round" stroke-linejoin="round"/>
<path d="M253.9 319.0L263.2 319.0L276.5 317.6L290.0 317.6" stroke="#80ec60" stroke-width="3.5" fill="none" stroke-linecap="round" stroke-linejoin="round"/>
<path d="M142.6 305.0h0M154.6 308.3h0M243.9 320.3h0M249.2 313.6h0M265.9 313.6h0M288.5 311.0h0" stroke="#1a4cf0" stroke-width="4.0" fill="none" stroke-linecap="round"/>
<path d="M268.5 396.2h0" stroke="#d81830" stroke-width="3.6" fill="none" stroke-linecap="round"/>
<path d="M304.0 305.6h0M335.3 298.3h0M350.6 294.7h0M372.0 289.0h0M380.6 287.7h0M396.6 285.4h0M414.0 280.3h0M427.3 273.7h0M426.6 261.7h0M441.3 261.7h0M443.9 271.0h0M457.3 274.3h0M463.9 260.3h0" stroke="#a9a9a9" stroke-width="14.0" fill="none" stroke-linecap="round"/>
<path d="M289.3 311.0L293.3 309.6" stroke="#20c8e0" stroke-width="3.0" fill="none" stroke-linecap="round" stroke-linejoin="round"/>
<path d="M308.0 306.3L318.7 306.3" stroke="#20c8e0" stroke-width="3.0" fill="none" stroke-linecap="round" stroke-linejoin="round"/>
<path d="M302.7 309.0h0M337.3 299.0h0M349.3 304.3h0" stroke="#40e0b0" stroke-width="4.4" fill="none" stroke-linecap="round"/>
<path d="M330.6 304.3L340.0 304.6" stroke="#40e0c0" stroke-width="3.0" fill="none" stroke-linecap="round" stroke-linejoin="round"/>
<path d="M280.0 319.0h0M284.0 319.0h0M290.0 319.0h0M298.7 319.0h0M342.0 316.3h0" stroke="#90f050" stroke-width="3.6" fill="none" stroke-linecap="round"/>
<path d="M310.7 319.0L320.0 318.7L336.0 318.7" stroke="#90f050" stroke-width="3.2" fill="none" stroke-linecap="round" stroke-linejoin="round"/>
<path d="M344.0 320.3L354.6 321.6L366.6 323.0L379.3 325.0" stroke="#40e0c0" stroke-width="4.0" fill="none" stroke-linecap="round" stroke-linejoin="round"/>
<path d="M330.6 326.3L344.0 325.6" stroke="#90f050" stroke-width="3.0" fill="none" stroke-linecap="round" stroke-linejoin="round"/>
<path d="M280.0 335.0L293.3 336.3L306.7 337.6L318.7 339.0" stroke="#90f050" stroke-width="5.0" fill="none" stroke-linecap="round" stroke-linejoin="round"/>
<path d="M321.3 333.0L342.6 333.6" stroke="#80f070" stroke-width="3.5" fill="none" stroke-linecap="round" stroke-linejoin="round"/>
<path d="M314.0 329.0h0M306.7 330.3h0M324.7 341.0h0M352.0 333.6h0M357.3 327.6h0M348.6 326.3h0" stroke="#90f050" stroke-width="3.6" fill="none" stroke-linecap="round"/>
<path d="M326.7 328.3h0M318.7 336.3h0M343.3 334.3h0M344.0 326.3h0M360.0 325.6h0" stroke="#2010a0" stroke-width="4.0" fill="none" stroke-linecap="round"/>
<path d="M388.0 327.6L400.0 327.0L413.3 328.3" stroke="#80f070" stroke-width="3.5" fill="none" stroke-linecap="round" stroke-linejoin="round"/>
<path d="M400.0 331.0L413.3 331.6L426.6 333.6L437.3 333.6" stroke="#80f070" stroke-width="3.0" fill="none" stroke-linecap="round" stroke-linejoin="round"/>
<path d="M444.6 328.3h0" stroke="#90f050" stroke-width="3.6" fill="none" stroke-linecap="round"/>
<path d="M374.6 315.2h0" stroke="#1a70f0" stroke-width="4.0" fill="none" stroke-linecap="round"/>
<path d="M280.0 377.6L293.3 383.0L300.0 388.3L313.3 385.6L326.7 384.3L340.0 385.0L353.3 387.0L366.6 391.0L377.3 396.3" stroke="#ff8000" stroke-width="7.0" fill="none" stroke-linecap="round" stroke-linejoin="round"/>
<path d="M304.0 395.0L320.0 396.3L346.6 396.3L360.0 395.0" stroke="#f05010" stroke-width="4.0" fill="none" stroke-linecap="round" stroke-linejoin="round"/>
<path d="M299.3 379.0h0M305.3 379.6h0M354.6 381.0h0M386.6 386.3h0" stroke="#ff8000" stroke-width="3.6" fill="none" stroke-linecap="round"/>
<circle cx="165.2" cy="533.3" r="22" class="cx"/>
<path d="M149.6 517.7L180.8 548.9M180.8 517.7L149.6 548.9" class="cx"/>
<path d="M191.3 464.0L208.7 469.3L230.0 480.0L243.3 466.7L247.3 488.0L256.7 512.0L272.7 525.3L290.0 525.3L290.0 549.3L272.7 544.0L254.0 536.0L235.3 525.3L219.3 512.0L203.3 501.3L195.3 488.0L191.3 477.3Z" fill="#ff9a20" fill-opacity="0.35" stroke-opacity="0.35" stroke="#ff9a20" stroke-width="1.5" stroke-linejoin="round"/>
<path d="M73.2 560.0L74.0 570.7L75.3 581.3" stroke="#18a0f0" stroke-width="5.0" fill="none" stroke-linecap="round" stroke-linejoin="round"/>
<path d="M74.0 570.7L80.7 557.3L88.7 541.3L96.7 533.3L110.0 530.7L123.3 525.3L134.0 517.3L142.0 509.3L150.0 506.7" stroke="#1a4cf0" stroke-width="5.0" fill="none" stroke-linecap="round" stroke-linejoin="round"/>
<path d="M80.7 562.7L96.7 570.7L110.0 576.0L118.0 584.0L123.3 592.0L131.3 600.0L142.0 610.7" stroke="#18b0e8" stroke-width="5.5" fill="none" stroke-linecap="round" stroke-linejoin="round"/>
<path d="M103.3 589.3h0M108.7 592.0h0M126.0 602.7h0M143.3 597.3h0M148.7 600.0h0M99.3 554.7h0M112.7 569.3h0" stroke="#18b0e8" stroke-width="3.6" fill="none" stroke-linecap="round"/>
<path d="M155.3 602.7L166.0 594.7L174.0 589.3" stroke="#30d0d0" stroke-width="3.0" fill="none" stroke-linecap="round" stroke-linejoin="round"/>
<path d="M155.3 610.7L160.7 621.3L171.3 621.3L179.3 620.0" stroke="#30d0d0" stroke-width="3.0" fill="none" stroke-linecap="round" stroke-linejoin="round"/>
<path d="M150.0 509.3L155.3 501.3L163.3 488.0L176.7 482.7L184.7 477.3L187.3 469.3L182.0 461.3L179.3 453.3L182.0 445.3L192.7 441.3" stroke="#f0b010" stroke-width="6.5" fill="none" stroke-linecap="round" stroke-linejoin="round"/>
<path d="M158.0 506.7L160.7 517.3L166.0 522.7" stroke="#f0b010" stroke-width="4.0" fill="none" stroke-linecap="round" stroke-linejoin="round"/>
<path d="M132.7 502.7h0M140.7 498.7h0M187.3 502.7h0M192.7 522.7h0M176.7 528.0h0" stroke="#f0b010" stroke-width="3.2" fill="none" stroke-linecap="round"/>
<path d="M176.7 453.3L182.0 464.0" stroke="#1a4cf0" stroke-width="3.5" fill="none" stroke-linecap="round" stroke-linejoin="round"/>
<path d="M131.3 545.3L142.0 545.3L150.0 541.3L158.0 533.3L163.3 525.3" stroke="#3a1ccc" stroke-width="4.5" fill="none" stroke-linecap="round" stroke-linejoin="round"/>
<path d="M171.3 560.0h0M174.0 565.3h0M171.3 573.3h0M176.7 576.0h0M168.7 572.0h0M186.0 593.3h0M180.7 553.3h0M147.3 501.3h0" stroke="#d02030" stroke-width="3.6" fill="none" stroke-linecap="round"/>
<path d="M192.7 466.7L203.3 480.0L214.0 490.7L222.0 501.3L230.0 512.0L238.0 522.7L251.3 530.7L264.7 533.3L280.7 536.0L290.0 533.3" stroke="#ff8c00" stroke-width="8.0" fill="none" stroke-linecap="round" stroke-linejoin="round"/>
<path d="M200.7 477.3L219.3 482.7L235.3 488.0L243.3 477.3L240.7 466.7" stroke="#ff8c00" stroke-width="6.0" fill="none" stroke-linecap="round" stroke-linejoin="round"/>
<path d="M195.3 501.3L208.7 506.7L219.3 506.7L230.0 517.3" stroke="#ff8c00" stroke-width="6.0" fill="none" stroke-linecap="round" stroke-linejoin="round"/>
<path d="M219.3 488.0L230.0 498.7L240.7 501.3L243.3 512.0" stroke="#ff8c00" stroke-width="5.0" fill="none" stroke-linecap="round" stroke-linejoin="round"/>
<path d="M280.7 544.0L290.0 549.3" stroke="#ff8c00" stroke-width="6.0" fill="none" stroke-linecap="round" stroke-linejoin="round"/>
<path d="M207.3 472.0h0M248.7 485.3h0M254.0 517.3h0M286.0 498.7h0M240.7 466.7h0M256.7 462.7h0M268.7 612.0h0" stroke="#ff8c00" stroke-width="3.6" fill="none" stroke-linecap="round"/>
<path d="M198.0 502.7L203.3 496.0" stroke="#c8143c" stroke-width="3.5" fill="none" stroke-linecap="round" stroke-linejoin="round"/>
<path d="M198.0 512.0L203.3 522.7L208.7 530.7L219.3 536.0L230.0 544.0L235.3 549.3" stroke="#3a1ccc" stroke-width="3.5" fill="none" stroke-linecap="round" stroke-linejoin="round"/>
<path d="M210.0 552.5L219.3 551.5" stroke="#3a1ccc" stroke-width="6.0" fill="none" stroke-linecap="round" stroke-linejoin="round"/>
<path d="M219.3 538.7L224.7 549.3L232.7 560.0L240.7 570.7L251.3 576.0L258.0 582.7" stroke="#90f050" stroke-width="4.0" fill="none" stroke-linecap="round" stroke-linejoin="round"/>
<path d="M240.7 538.7h0M248.7 538.1h0M256.7 538.7h0M264.7 539.2h0M272.7 538.7h0M280.7 537.3h0M290.0 536.0h0" stroke="#90f050" stroke-width="4.0" fill="none" stroke-linecap="round"/>
<path d="M222.0 441.3L224.7 448.0L230.0 456.0L231.3 469.3" stroke="#1a80f0" stroke-width="3.0" fill="none" stroke-linecap="round" stroke-linejoin="round"/>
<path d="M230.0 422.7h0M228.7 429.3h0M248.7 445.3h0M288.7 446.7h0" stroke="#1a80f0" stroke-width="4.0" fill="none" stroke-linecap="round"/>
<path d="M254.0 457.3h0M267.3 453.3h0M271.3 452.0h0M214.0 638.7h0M220.7 645.3h0M227.3 649.3h0M235.3 658.7h0M236.7 661.3h0M244.7 660.0h0M215.3 614.7h0M203.3 557.3h0" stroke="#3a1ccc" stroke-width="4.0" fill="none" stroke-linecap="round"/>
<path d="M198.0 612.0L203.3 617.3L211.3 618.7" stroke="#3a1ccc" stroke-width="3.5" fill="none" stroke-linecap="round" stroke-linejoin="round"/>
<path d="M254.0 674.7L270.0 670.7L283.3 669.3" stroke="#90f050" stroke-width="3.0" fill="none" stroke-linecap="round" stroke-linejoin="round"/>
<path d="M290.7 448.0h0M300.0 442.6h0" stroke="#18a8f0" stroke-width="5.6" fill="none" stroke-linecap="round"/>
<path d="M318.6 486.6h0M306.6 499.9h0M300.0 503.4h0M342.6 539.9h0M351.4 540.7h0M327.4 553.2h0M343.9 567.3h0M361.2 580.6h0M300.8 581.9h0" stroke="#2a1090" stroke-width="4.0" fill="none" stroke-linecap="round"/>
<path d="M374.6 541.2h0" stroke="#1a70f0" stroke-width="4.4" fill="none" stroke-linecap="round"/>
<path d="M317.3 491.9h0M304.0 503.9h0M298.6 509.2h0M296.0 519.9h0M325.3 523.9h0M350.6 536.4h0" stroke="#90f050" stroke-width="3.6" fill="none" stroke-linecap="round"/>
<path d="M280.0 517.2L293.3 517.2L288.0 525.2L280.0 533.2" stroke="#ff8000" stroke-width="6.0" fill="none" stroke-linecap="round" stroke-linejoin="round"/>
<path d="M286.7 499.1h0M305.3 522.5h0M386.6 555.0h0" stroke="#ff8000" stroke-width="3.6" fill="none" stroke-linecap="round"/>
<path d="M280.0 538.5L296.0 538.5L306.6 537.2L317.3 530.5" stroke="#90f050" stroke-width="3.0" fill="none" stroke-linecap="round" stroke-linejoin="round"/>
<path d="M320.0 541.2L333.3 538.5L343.9 538.0" stroke="#90f050" stroke-width="3.0" fill="none" stroke-linecap="round" stroke-linejoin="round"/>
<path d="M312.0 551.8L322.6 554.5L333.3 559.8L341.3 565.2L349.3 569.2" stroke="#90f050" stroke-width="2.4" fill="none" stroke-linecap="round" stroke-linejoin="round"/>
<path d="M357.3 595.8L365.2 589.1" stroke="#90f050" stroke-width="3.0" fill="none" stroke-linecap="round" stroke-linejoin="round"/>
<path d="M280.0 543.9L290.7 551.8L301.3 553.2L312.0 549.2L320.0 547.8L325.3 554.5L330.6 565.2L335.9 575.8L341.3 583.8L346.6 591.8L349.3 602.5L354.6 610.5L365.2 613.1L375.9 611.8" stroke="#ff7000" stroke-width="7.0" fill="none" stroke-linecap="round" stroke-linejoin="round"/>
<path d="M305.3 643.8L314.6 642.4L320.0 634.4L324.0 623.8L328.0 615.8L333.3 610.5L343.9 607.8L357.3 610.5" stroke="#f05010" stroke-width="6.0" fill="none" stroke-linecap="round" stroke-linejoin="round"/>
<path d="M345.3 645.1L347.9 631.8L351.9 623.8L359.9 618.4L367.9 613.1L370.6 605.1L362.6 605.1" stroke="#40e0b0" stroke-width="4.0" fill="none" stroke-linecap="round" stroke-linejoin="round"/>
<path d="M367.9 610.5L378.6 619.8" stroke="#40e0b0" stroke-width="3.0" fill="none" stroke-linecap="round" stroke-linejoin="round"/>
<path d="M387.9 602.5L397.2 607.8L405.2 613.1L413.2 621.1L423.9 631.8L435.8 643.8" stroke="#80f070" stroke-width="2.4" fill="none" stroke-linecap="round" stroke-linejoin="round"/>
<path d="M405.2 610.5L415.9 615.8" stroke="#80f070" stroke-width="2.4" fill="none" stroke-linecap="round" stroke-linejoin="round"/>
<path d="M394.5 650.4h0M403.9 655.7h0M410.5 657.1h0" stroke="#80f070" stroke-width="4.0" fill="none" stroke-linecap="round"/>
<path d="M280.0 669.1L298.6 666.4L317.3 663.7L333.3 665.1L342.6 667.7" stroke="#90f050" stroke-width="2.6" fill="none" stroke-linecap="round" stroke-linejoin="round"/>
<path d="M303.7 727.6h0M350.5 721.9h0M396.8 710.4h0M427.7 714.2h0M463.7 748.2h0M440.6 800.2h0M430.8 851.1h0M468.9 902.6h0" stroke="#a9a9a9" stroke-width="14.0" fill="none" stroke-linecap="round"/>
<path d="M270.7 700.6h0M274.6 697.5h0M292.6 708.8h0M330.4 747.4h0M340.7 762.3h0" stroke="#30d0c0" stroke-width="3.6" fill="none" stroke-linecap="round"/>
<path d="M302.9 718.6L310.6 728.9L317.0 732.7" stroke="#20c8d8" stroke-width="3.0" fill="none" stroke-linecap="round" stroke-linejoin="round"/>
<path d="M300.3 713.4L304.1 718.6" stroke="#80ec60" stroke-width="2.4" fill="none" stroke-linecap="round" stroke-linejoin="round"/>
<path d="M337.6 728.9h0M339.7 727.6h0" stroke="#60e880" stroke-width="4.0" fill="none" stroke-linecap="round"/>
<path d="M347.9 782.9L351.0 791.9" stroke="#80ec60" stroke-width="3.0" fill="none" stroke-linecap="round" stroke-linejoin="round"/>
<text x="304.5" y="727.5" font-size="21">32</text>
<text x="351.0" y="721.0" font-size="21">31</text>
<text x="398.0" y="709.0" font-size="21">30</text>
<text x="427.5" y="713.5" font-size="21">29</text>
<text x="464.0" y="748.0" font-size="21">28</text>
<circle cx="543.0" cy="532.5" r="22" class="cx"/>
<path d="M527.4 516.9L558.6 548.1M558.6 516.9L527.4 548.1" class="cx"/>
<path d="M480.4 466.2L479.0 482.7L481.8 504.8L487.3 515.8L492.8 526.9L495.6 537.9L490.1 546.2L484.5 554.4L481.8 565.5L484.5 579.3L481.8 593.1L479.0 609.6" stroke="#ff8000" stroke-width="5.5" fill="none" stroke-linecap="round" stroke-linejoin="round"/>
<path d="M508.0 442.7L509.4 455.2L506.6 471.7L503.9 488.3L501.1 504.8L498.3 518.6L501.1 532.4L495.6 540.7" stroke="#ff9000" stroke-width="5.0" fill="none" stroke-linecap="round" stroke-linejoin="round"/>
<path d="M509.4 460.7L514.9 474.5L517.6 488.3L520.4 504.8L523.2 515.8L527.3 526.9L531.4 537.9" stroke="#f0b010" stroke-width="5.0" fill="none" stroke-linecap="round" stroke-linejoin="round"/>
<path d="M473.5 604.1L472.1 620.6L473.5 634.4L474.9 645.5" stroke="#f05010" stroke-width="6.0" fill="none" stroke-linecap="round" stroke-linejoin="round"/>
<path d="M488.7 557.2L479.0 565.5L474.9 579.3L476.3 593.1L479.0 606.8L481.8 612.4" stroke="#18a8f0" stroke-width="6.0" fill="none" stroke-linecap="round" stroke-linejoin="round"/>
<path d="M508.0 452.4L509.4 466.2" stroke="#1a4cf0" stroke-width="4.5" fill="none" stroke-linecap="round" stroke-linejoin="round"/>
<path d="M519.0 507.6L519.0 524.1L517.6 543.4L519.0 560.0L519.0 582.0" stroke="#1a4cf0" stroke-width="5.0" fill="none" stroke-linecap="round" stroke-linejoin="round"/>
<path d="M503.9 515.8L506.6 529.6L506.6 546.2L509.4 554.4" stroke="#3a1ccc" stroke-width="5.0" fill="none" stroke-linecap="round" stroke-linejoin="round"/>
<path d="M512.1 548.9L517.6 543.4" stroke="#3a1ccc" stroke-width="4.0" fill="none" stroke-linecap="round" stroke-linejoin="round"/>
<path d="M531.4 526.9L532.8 540.7L534.2 548.9" stroke="#3a1ccc" stroke-width="5.0" fill="none" stroke-linecap="round" stroke-linejoin="round"/>
<path d="M532.8 502.0L534.2 515.8L535.6 532.4L539.7 548.9L539.7 565.5L539.7 582.0L542.5 593.1L541.1 609.6L538.3 626.2L539.7 642.7" stroke="#90f050" stroke-width="4.0" fill="none" stroke-linecap="round" stroke-linejoin="round"/>
<path d="M550.7 662.0L552.1 673.0" stroke="#90f050" stroke-width="5.0" fill="none" stroke-linecap="round" stroke-linejoin="round"/>
<path d="M543.8 593.1L548.0 609.6L549.4 620.6L556.3 620.6L561.8 622.0" stroke="#40e0b0" stroke-width="4.0" fill="none" stroke-linecap="round" stroke-linejoin="round"/>
<path d="M548.0 604.1L549.4 634.4" stroke="#40e0b0" stroke-width="3.5" fill="none" stroke-linecap="round" stroke-linejoin="round"/>
<path d="M559.0 423.4L559.0 438.6L556.3 452.4L554.9 468.9" stroke="#1a90f0" stroke-width="4.0" fill="none" stroke-linecap="round" stroke-linejoin="round"/>
<path d="M538.3 493.8L538.3 504.8" stroke="#c8143c" stroke-width="3.0" fill="none" stroke-linecap="round" stroke-linejoin="round"/>
<path d="M548.0 499.3h0M542.5 491.0h0" stroke="#c8143c" stroke-width="3.6" fill="none" stroke-linecap="round"/>
<path d="M534.2 486.9h0M550.7 573.8h0M552.1 582.0h0M543.8 579.3h0M559.0 596.4h0M563.2 596.9h0M565.9 596.9h0M542.5 637.2h0M545.2 645.5h0M548.0 649.6h0M549.4 657.9h0" stroke="#3a1ccc" stroke-width="4.0" fill="none" stroke-linecap="round"/>
<path d="M542.5 695.1h0M554.9 697.9h0" stroke="#60e880" stroke-width="4.0" fill="none" stroke-linecap="round"/>
<path d="M497.0 559.4h0M499.7 560.0h0M554.9 542.0h0" stroke="#1a70f0" stroke-width="4.0" fill="none" stroke-linecap="round"/>
<path d="M563.8 728.4h0M575.9 721.6h0M584.1 710.6h0M597.2 714.4h0M610.3 748.1h0" stroke="#a9a9a9" stroke-width="14.0" fill="none" stroke-linecap="round"/>
<path d="M472.2 620.6L473.8 632.5L475.3 645.0" stroke="#f05010" stroke-width="5.0" fill="none" stroke-linecap="round" stroke-linejoin="round"/>
<path d="M537.8 620.6L539.4 648.1" stroke="#60e880" stroke-width="3.5" fill="none" stroke-linecap="round" stroke-linejoin="round"/>
<path d="M548.8 620.6L550.3 645.0" stroke="#40d0c0" stroke-width="3.0" fill="none" stroke-linecap="round" stroke-linejoin="round"/>
<path d="M542.5 638.8h0M545.6 649.7h0M548.8 657.5h0" stroke="#2a1090" stroke-width="3.6" fill="none" stroke-linecap="round"/>
<path d="M550.3 663.8L551.9 676.2" stroke="#90f050" stroke-width="3.5" fill="none" stroke-linecap="round" stroke-linejoin="round"/>
<path d="M542.5 695.0h0" stroke="#90f050" stroke-width="3.2" fill="none" stroke-linecap="round"/>
<path d="M555.0 699.7L561.2 713.8L562.8 727.8" stroke="#30d0d0" stroke-width="2.4" fill="none" stroke-linecap="round" stroke-linejoin="round"/>
<path d="M565.9 748.1h0M565.9 762.2h0" stroke="#30d0d0" stroke-width="3.0" fill="none" stroke-linecap="round"/>
<path d="M565.9 782.5L565.9 791.9" stroke="#90f050" stroke-width="3.0" fill="none" stroke-linecap="round" stroke-linejoin="round"/>
<circle cx="132.0" cy="85.5" r="22" class="cx"/>
<path d="M116.4 69.9L147.6 101.1M147.6 69.9L116.4 101.1" class="cx"/>
<path d="M132.0 87.2L137.9 93.4L143.8 99.6L147.6 103.7" stroke="#e3c21f" stroke-width="4.6" fill="none" stroke-linecap="round" stroke-linejoin="round"/>
<path d="M145.5 102.1L151.0 106.5L156.5 109.0" stroke="#f0aa10" stroke-width="5.5" fill="none" stroke-linecap="round" stroke-linejoin="round"/>
<path d="M155.1 105.1L162.0 105.8L168.9 108.2" stroke="#f0aa10" stroke-width="3.2" fill="none" stroke-linecap="round" stroke-linejoin="round"/>
<path d="M157.2 109.9L162.0 114.8L167.5 120.3L171.7 121.9L177.2 119.6L182.7 118.2L187.1 117.2" stroke="#ff8a00" stroke-width="6.5" fill="none" stroke-linecap="round" stroke-linejoin="round"/>
<path d="M171.0 120.3L174.4 124.4L177.2 120.3" stroke="#ff8a00" stroke-width="6.0" fill="none" stroke-linecap="round" stroke-linejoin="round"/>
<path d="M171.7 123.0L175.1 128.6L179.3 134.8L184.1 139.6L189.6 145.8L193.7 141.0L197.9 136.1L201.3 140.3" stroke="#ff8a00" stroke-width="6.5" fill="none" stroke-linecap="round" stroke-linejoin="round"/>
<path d="M201.3 140.3L205.5 146.5L210.3 152.0L215.8 153.4L220.6 149.9L224.8 149.9L228.9 150.3" stroke="#ff6a10" stroke-width="6.2" fill="none" stroke-linecap="round" stroke-linejoin="round"/>
<path d="M164.8 91.3h0" stroke="#c8a030" stroke-width="3.2" fill="none" stroke-linecap="round"/>
<path d="M197.3 92.3h0M208.6 86.1h0M211.7 83.1h0" stroke="#ff6a10" stroke-width="3.4" fill="none" stroke-linecap="round"/>
<path d="M231.6 83.5h0M238.3 82.0h0M238.3 84.0h0M245.2 84.2h0M251.6 82.6h0" stroke="#f2461a" stroke-width="3.4" fill="none" stroke-linecap="round"/>
<path d="M261.0 85.8h0M264.7 92.7h0M269.8 73.0h0" stroke="#c8143c" stroke-width="3.6" fill="none" stroke-linecap="round"/>
<path d="M264.5 101.3L264.9 105.1L265.4 108.3" stroke="#c8143c" stroke-width="4.0" fill="none" stroke-linecap="round" stroke-linejoin="round"/>
<path d="M274.0 87.2L279.2 87.6L283.1 88.2" stroke="#c8143c" stroke-width="2.6" fill="none" stroke-linecap="round" stroke-linejoin="round"/>
<path d="M282.7 80.6L282.7 85.1L282.9 88.6" stroke="#c8143c" stroke-width="2.6" fill="none" stroke-linecap="round" stroke-linejoin="round"/>
<path d="M288.9 81.3h0M291.6 76.6h0M295.7 78.9h0M295.7 80.3h0" stroke="#c8143c" stroke-width="3.2" fill="none" stroke-linecap="round"/>
<path d="M308.8 78.9h0M308.8 83.8h0M308.4 88.2h0M308.4 87.2h0" stroke="#7f0f8c" stroke-width="3.4" fill="none" stroke-linecap="round"/>
<path d="M328.8 81.3h0M334.3 81.0h0M335.0 82.4h0M337.8 90.2h0" stroke="#3a1ccc" stroke-width="3.4" fill="none" stroke-linecap="round"/>
<path d="M330.0 81.2h0M335.1 80.8h0M335.1 82.2h0M340.1 78.9h0M337.9 90.2h0M345.9 65.6h0M348.8 69.2h0M348.1 72.9h0M352.4 75.0h0M346.6 84.4h0M353.8 92.4h0M353.8 94.5h0M356.0 80.8h0M357.5 81.8h0" stroke="#7f0f8c" stroke-width="3.6" fill="none" stroke-linecap="round"/>
<path d="M364.4 76.8L364.4 87.3" stroke="#3a1ccc" stroke-width="3.0" fill="none" stroke-linecap="round" stroke-linejoin="round"/>
<path d="M362.5 87.3h0M367.9 73.6h0M369.3 62.0h0M369.0 81.2h0M374.8 79.4h0M381.3 72.9h0M382.7 80.1h0M385.6 80.1h0M389.2 92.4h0M390.0 76.5h0M392.9 76.5h0M393.6 81.8h0M400.4 81.8h0" stroke="#3a1ccc" stroke-width="3.6" fill="none" stroke-linecap="round"/>
<path d="M397.2 64.2h0M402.2 67.1h0M406.6 62.7h0" stroke="#1a4cf0" stroke-width="3.6" fill="none" stroke-linecap="round"/>
<path d="M406.6 67.8L407.3 73.6" stroke="#1a4cf0" stroke-width="2.6" fill="none" stroke-linecap="round" stroke-linejoin="round"/>
<path d="M365.4 88.7L369.0 91.2L373.3 93.2L377.7 92.7" stroke="#3a1ccc" stroke-width="5.0" fill="none" stroke-linecap="round" stroke-linejoin="round"/>
<path d="M364.7 121.5L365.8 116.9L370.5 112.9L374.8 111.1L381.3 109.4" stroke="#3a1ccc" stroke-width="5.5" fill="none" stroke-linecap="round" stroke-linejoin="round"/>
<path d="M364.7 114.3L364.7 121.3" stroke="#3a1ccc" stroke-width="4.0" fill="none" stroke-linecap="round" stroke-linejoin="round"/>
<path d="M412.4 113.7L412.4 118.4" stroke="#1a4cf0" stroke-width="3.5" fill="none" stroke-linecap="round" stroke-linejoin="round"/>
<path d="M415.3 108.5L415.5 104.2L419.6 102.8L425.4 105.7L429.7 104.6" stroke="#1a4cf0" stroke-width="5.0" fill="none" stroke-linecap="round" stroke-linejoin="round"/>
<path d="M446.3 58.7h0M449.9 69.2h0M460.0 69.2h0" stroke="#12a2f0" stroke-width="3.6" fill="none" stroke-linecap="round"/>
<path d="M455.0 65.6L455.0 72.9" stroke="#12a2f0" stroke-width="3.0" fill="none" stroke-linecap="round" stroke-linejoin="round"/>
<path d="M461.2 123.9L461.5 127.0" stroke="#12a2f0" stroke-width="2.8" fill="none" stroke-linecap="round" stroke-linejoin="round"/>
<path d="M469.0 133.1L471.9 136.0L474.5 140.0L478.8 144.4L483.2 147.3L488.9 149.4L493.3 146.5L497.6 144.4L502.7 142.9" stroke="#12a2f0" stroke-width="5.5" fill="none" stroke-linecap="round" stroke-linejoin="round"/>
<path d="M481.0 64.2h0M486.1 64.2h0M487.5 62.0h0M492.6 67.8h0M493.3 59.9h0M496.9 64.9h0M497.6 62.0h0M499.1 60.3h0M504.8 59.9h0M509.2 62.5h0M513.5 62.5h0" stroke="#22cfd6" stroke-width="3.6" fill="none" stroke-linecap="round"/>
<path d="M523.6 57.7L526.5 60.6L528.0 65.2L527.2 70.7L527.2 82.2" stroke="#22cfd6" stroke-width="3.5" fill="none" stroke-linecap="round" stroke-linejoin="round"/>
<path d="M521.5 69.2h0M538.1 62.0h0M540.2 59.9h0M546.7 64.9h0M548.9 52.6h0M552.5 69.2h0" stroke="#40e49c" stroke-width="3.6" fill="none" stroke-linecap="round"/>
<path d="M549.6 73.6L549.6 80.1" stroke="#40e49c" stroke-width="3.5" fill="none" stroke-linecap="round" stroke-linejoin="round"/>
<path d="M581.4 53.3h0M575.6 63.5h0M588.6 87.3h0M589.4 63.5h0M592.3 58.4h0M594.4 59.1h0M599.5 59.1h0M601.6 63.5h0" stroke="#96ef4a" stroke-width="3.8" fill="none" stroke-linecap="round"/>
<path d="M583.6 80.8L584.3 88.0" stroke="#96ef4a" stroke-width="3.5" fill="none" stroke-linecap="round" stroke-linejoin="round"/>
<path d="M611.8 72.1h0" stroke="#96ef4a" stroke-width="5.2" fill="none" stroke-linecap="round"/>
<path d="M611.0 79.4L611.0 93.8" stroke="#96ef4a" stroke-width="5.5" fill="none" stroke-linecap="round" stroke-linejoin="round"/>
<circle cx="889.0" cy="329.0" r="22" class="cx"/>
<path d="M873.4 313.4L904.6 344.6M904.6 313.4L873.4 344.6" class="cx"/>
<path d="M787.3 371.6L800.0 372.3L813.3 374.3L824.0 375.6L834.6 375.6L846.6 377.6L859.9 382.9L873.3 386.9L886.6 389.6L891.2 393.6L891.9 398.9L855.9 398.9L839.9 393.6L826.6 386.9L813.3 381.6L800.0 377.6L788.0 375.6Z" fill="#18a8f0" stroke="#18a8f0" stroke-width="1.5" stroke-linejoin="round"/>
<path d="M837.3 374.9L846.6 372.3L859.9 368.3L873.3 365.6L879.9 368.3L879.9 372.3L866.6 374.9L853.3 377.6L842.6 378.9Z" fill="#40d8c0" stroke="#40d8c0" stroke-width="1.5" stroke-linejoin="round"/>
<path d="M788.0 372.9L806.6 375.6L824.0 378.9L839.9 381.6" stroke="#18b0f0" stroke-width="6.5" fill="none" stroke-linecap="round" stroke-linejoin="round"/>
<path d="M824.0 381.6L839.9 386.9L853.3 389.6L866.6 392.2L879.9 394.9L890.6 397.6" stroke="#1a88f0" stroke-width="9.0" fill="none" stroke-linecap="round" stroke-linejoin="round"/>
<path d="M839.9 388.9L853.3 394.9L859.9 398.6" stroke="#1a70f0" stroke-width="6.5" fill="none" stroke-linecap="round" stroke-linejoin="round"/>
<path d="M839.9 374.9L853.3 372.3L866.6 368.3L879.9 369.6" stroke="#40d8c0" stroke-width="6.0" fill="none" stroke-linecap="round" stroke-linejoin="round"/>
<path d="M869.3 366.3L879.9 370.9" stroke="#1a60f0" stroke-width="5.0" fill="none" stroke-linecap="round" stroke-linejoin="round"/>
<path d="M853.3 376.3L866.6 378.9L879.9 380.3L893.2 378.3L906.6 377.6L919.9 376.9L933.2 372.3L942.6 368.3" stroke="#80f070" stroke-width="5.5" fill="none" stroke-linecap="round" stroke-linejoin="round"/>
<path d="M866.6 382.9L879.9 385.6" stroke="#80f070" stroke-width="5.0" fill="none" stroke-linecap="round" stroke-linejoin="round"/>
<path d="M846.6 366.9L841.3 361.6L839.9 354.9L838.6 348.3L839.9 342.9L846.6 342.3L853.3 342.9L866.6 343.6L875.9 342.9" stroke="#30c8d0" stroke-width="3.0" fill="none" stroke-linecap="round" stroke-linejoin="round"/>
<path d="M839.9 350.9h0M842.6 356.3h0M850.6 342.3h0M870.6 343.6h0M845.3 361.6h0" stroke="#1a60f0" stroke-width="3.6" fill="none" stroke-linecap="round"/>
<path d="M877.3 344.3L883.9 337.6L889.3 332.3L893.2 327.0L895.9 325.6" stroke="#40e0c0" stroke-width="5.0" fill="none" stroke-linecap="round" stroke-linejoin="round"/>
<path d="M886.6 317.9L887.9 324.3" stroke="#7a10a0" stroke-width="3.5" fill="none" stroke-linecap="round" stroke-linejoin="round"/>
<path d="M889.3 317.6h0" stroke="#7a10a0" stroke-width="6.0" fill="none" stroke-linecap="round"/>
<path d="M911.9 329.6L919.9 329.6L927.9 330.3" stroke="#5a10b0" stroke-width="5.0" fill="none" stroke-linecap="round" stroke-linejoin="round"/>
<path d="M937.2 329.0h0M945.2 330.3h0" stroke="#5a10b0" stroke-width="4.0" fill="none" stroke-linecap="round"/>
<path d="M919.9 334.9L931.9 332.3" stroke="#e0b820" stroke-width="3.0" fill="none" stroke-linecap="round" stroke-linejoin="round"/>
<path d="M935.9 320.3L949.2 320.3L966.5 320.3" stroke="#f0a030" stroke-width="2.6" fill="none" stroke-linecap="round" stroke-linejoin="round"/>
<path d="M959.9 309.6L970.0 309.6" stroke="#7a10a0" stroke-width="5.0" fill="none" stroke-linecap="round" stroke-linejoin="round"/>
<path d="M889.3 341.6h0M893.2 345.6h0M899.9 348.3h0M906.6 350.9h0M913.2 356.3h0M919.9 361.6h0M926.6 361.6h0M933.2 361.6h0M939.9 365.6h0M946.5 366.9h0M953.2 365.6h0M959.9 368.3h0M905.2 365.6h0M895.9 346.9h0M898.6 350.3h0" stroke="#c81838" stroke-width="3.6" fill="none" stroke-linecap="round"/>
<path d="M921.2 384.3L933.2 384.3L946.5 382.9L959.9 380.3L970.0 374.9" stroke="#c81838" stroke-width="2.6" fill="none" stroke-linecap="round" stroke-linejoin="round"/>
<path d="M913.2 350.9h0M919.9 362.9h0M919.9 366.9h0M915.9 353.6h0M923.9 382.9h0" stroke="#f08020" stroke-width="3.6" fill="none" stroke-linecap="round"/>
<path d="M936.6 300.3h0" stroke="#222" stroke-width="3.2" fill="none" stroke-linecap="round"/>
<path d="M772.0 372.9h0" stroke="#1a80f0" stroke-width="3.6" fill="none" stroke-linecap="round"/>
<path d="M948.8 311.7h0M960.4 306.0h0M969.8 302.5h0M979.2 299.0h0M988.5 295.0h0M996.7 291.0h0M1004.9 285.4h0M1000.3 277.2h0M1002.6 267.9h0M1015.5 289.0h0M1020.2 266.7h0M1031.9 289.5h0M1040.1 265.5h0M1050.0 289.5h0M1060.0 264.4h0M1069.9 284.9h0M1079.9 265.0h0M1090.4 280.2h0M1092.8 265.0h0M1103.3 266.7h0M1105.6 279.0h0M1116.2 272.0h0M1010.0 280.0h0M995.0 275.0h0" stroke="#a9a9a9" stroke-width="13.6" fill="none" stroke-linecap="round"/>
<path d="M900.0 326.5L930.0 321.5L955.0 313.5L980.0 303.5L1000.0 293.5L1015.0 283.0L1025.0 276.0" stroke="#1a60f0" stroke-width="1.6" fill="none" stroke-linecap="round" stroke-linejoin="round"/>
<path d="M889.0 329.0L892.0 327.2L909.9 323.0L927.8 319.5L939.8 315.9L951.7 311.1L963.7 305.7L975.7 300.9L987.6 295.5L999.6 290.2L1012.0 281.9L1021.3 266.7" stroke="#80f070" stroke-width="3.2" fill="none" stroke-linecap="round" stroke-linejoin="round"/>
<path d="M1000.0 268.0L1010.0 262.0L1024.0 264.0L1022.0 275.0L1012.0 280.0L1002.0 278.0Z" fill="#80f070" fill-opacity="0.55" stroke-opacity="0.55" stroke="#80f070" stroke-width="1.5" stroke-linejoin="round"/>
<path d="M965.0 299.5L982.7 297.2" stroke="#c01050" stroke-width="3.5" fill="none" stroke-linecap="round" stroke-linejoin="round"/>
<path d="M960.3 309.6L968.3 309.6L981.6 311.0L991.0 313.6L1008.3 313.6L1025.6 313.6" stroke="#6a10a0" stroke-width="3.6" fill="none" stroke-linecap="round" stroke-linejoin="round"/>
<path d="M1036.3 315.0L1041.6 313.6" stroke="#1a40e0" stroke-width="3.0" fill="none" stroke-linecap="round" stroke-linejoin="round"/>
<path d="M955.0 320.3L967.0 320.3" stroke="#f09020" stroke-width="4.0" fill="none" stroke-linecap="round" stroke-linejoin="round"/>
<path d="M989.9 308.6L993.6 308.3" stroke="#f0a020" stroke-width="3.5" fill="none" stroke-linecap="round" stroke-linejoin="round"/>
<path d="M1025.0 328.3h0M1100.2 340.9h0" stroke="#d09040" stroke-width="3.2" fill="none" stroke-linecap="round"/>
<path d="M955.0 376.3L965.7 368.3L975.0 372.3L981.6 378.9L995.0 380.3L1008.3 379.6L1021.6 378.9L1034.9 378.9L1048.3 378.9L1061.6 376.3L1074.9 373.6L1088.2 372.3" stroke="#d82030" stroke-width="3.6" fill="none" stroke-linecap="round" stroke-linejoin="round"/>
<path d="M1088.2 372.3L1101.6 372.3L1114.9 373.6L1128.2 376.3L1141.5 377.6L1154.9 374.9L1165.0 373.6" stroke="#f06020" stroke-width="4.5" fill="none" stroke-linecap="round" stroke-linejoin="round"/>
<path d="M1089.6 382.9L1101.6 384.3L1114.9 382.9L1128.2 381.6L1141.5 380.3L1165.0 377.6" stroke="#f05018" stroke-width="6.0" fill="none" stroke-linecap="round" stroke-linejoin="round"/>
<path d="M1008.3 381.6L1012.3 388.2L1020.3 388.2" stroke="#f08020" stroke-width="4.0" fill="none" stroke-linecap="round" stroke-linejoin="round"/>
<circle cx="889.0" cy="457.3" r="22" class="cx"/>
<path d="M873.4 441.7L904.6 472.9M904.6 441.7L873.4 472.9" class="cx"/>
<path d="M855.9 458.6L866.6 454.6L877.3 449.3L885.3 448.0L893.2 453.3L895.9 464.0L898.6 477.3L903.9 487.9L909.2 498.6L917.2 506.6L925.2 514.6L933.2 525.3L943.9 533.2L954.5 538.6L970.0 539.9" stroke="#50e0b0" stroke-width="3.5" fill="none" stroke-linecap="round" stroke-linejoin="round"/>
<path d="M839.9 487.9L838.6 477.3L842.6 472.0L847.9 473.3L850.6 469.3" stroke="#30c8d0" stroke-width="3.0" fill="none" stroke-linecap="round" stroke-linejoin="round"/>
<path d="M861.3 472.0L871.9 479.9L877.3 487.9L877.3 501.3L871.9 509.3L866.6 514.6L865.3 525.3L869.3 538.6L871.9 551.9L869.3 565.2L866.6 573.2L861.3 586.5L858.6 599.9L859.9 613.2L855.9 626.5L850.6 634.5" stroke="#1a6af0" stroke-width="4.2" fill="none" stroke-linecap="round" stroke-linejoin="round"/>
<path d="M871.9 538.6L861.3 546.6L850.6 554.6L839.9 554.6L834.6 555.9" stroke="#1a6af0" stroke-width="3.2" fill="none" stroke-linecap="round" stroke-linejoin="round"/>
<path d="M866.6 549.2L855.9 557.2L847.9 565.2" stroke="#1a6af0" stroke-width="3.0" fill="none" stroke-linecap="round" stroke-linejoin="round"/>
<path d="M869.3 565.2L877.3 573.2L887.9 575.9" stroke="#1a6af0" stroke-width="3.0" fill="none" stroke-linecap="round" stroke-linejoin="round"/>
<path d="M855.9 586.5L845.3 591.9L834.6 599.9L824.0 605.2L816.0 613.2L810.6 618.5L802.6 623.9" stroke="#1a80f0" stroke-width="4.0" fill="none" stroke-linecap="round" stroke-linejoin="round"/>
<path d="M861.3 610.5L871.9 615.9L882.6 623.9L890.6 630.5" stroke="#1a80f0" stroke-width="3.0" fill="none" stroke-linecap="round" stroke-linejoin="round"/>
<path d="M789.3 610.5L794.6 613.2L802.6 621.2L805.3 634.5L810.6 645.2L818.6 655.8L824.0 666.5L829.3 677.2L834.6 689.9" stroke="#18a8f0" stroke-width="4.0" fill="none" stroke-linecap="round" stroke-linejoin="round"/>
<path d="M866.6 655.8L861.3 666.5L855.9 677.2L850.6 689.9" stroke="#40e0b0" stroke-width="3.5" fill="none" stroke-linecap="round" stroke-linejoin="round"/>
<path d="M857.3 511.9L863.9 509.3L871.9 505.3L877.3 501.3" stroke="#f08020" stroke-width="3.0" fill="none" stroke-linecap="round" stroke-linejoin="round"/>
<path d="M874.6 493.3L877.3 507.9" stroke="#f08020" stroke-width="2.6" fill="none" stroke-linecap="round" stroke-linejoin="round"/>
<path d="M885.3 485.3L887.9 491.9L890.6 493.3" stroke="#7a0a8a" stroke-width="4.5" fill="none" stroke-linecap="round" stroke-linejoin="round"/>
<path d="M909.2 440.0L919.9 429.3L933.2 424.0L946.5 418.7L959.9 417.3L970.0 418.7" stroke="#f0a020" stroke-width="3.0" fill="none" stroke-linecap="round" stroke-linejoin="round"/>
<path d="M898.6 430.6h0M909.2 442.6h0M914.6 453.3h0M919.9 450.6h0M925.2 461.3h0M930.6 453.3h0M935.9 458.6h0M943.9 448.0h0M946.5 440.0h0M951.9 432.0h0M957.2 426.6h0M962.5 425.3h0M946.5 464.0h0M951.9 466.6h0M933.2 472.0h0M935.9 479.9h0M946.5 487.9h0M957.2 490.6h0M965.2 485.3h0M919.9 456.0h0M927.9 445.3h0M941.2 442.6h0" stroke="#c81838" stroke-width="3.4" fill="none" stroke-linecap="round"/>
<path d="M914.6 464.0L919.9 469.3L925.2 474.6L927.9 479.9" stroke="#3a1ccc" stroke-width="4.0" fill="none" stroke-linecap="round" stroke-linejoin="round"/>
<path d="M922.6 495.9L927.9 491.9L930.6 487.9" stroke="#e0b820" stroke-width="3.0" fill="none" stroke-linecap="round" stroke-linejoin="round"/>
<path d="M930.6 515.9L946.5 513.3L959.9 511.9L970.0 513.3" stroke="#f08020" stroke-width="2.5" fill="none" stroke-linecap="round" stroke-linejoin="round"/>
<path d="M965.2 549.2L970.0 562.6" stroke="#7a0a8a" stroke-width="3.5" fill="none" stroke-linecap="round" stroke-linejoin="round"/>
<path d="M962.5 586.5L970.0 581.2" stroke="#7a0a8a" stroke-width="3.5" fill="none" stroke-linecap="round" stroke-linejoin="round"/>
<path d="M893.2 597.2h0M772.0 627.9h0" stroke="#1a80f0" stroke-width="3.2" fill="none" stroke-linecap="round"/>
<path d="M1104.2 450.6L1114.9 453.3L1128.2 454.6L1141.5 453.3L1152.2 457.3L1157.5 464.0" stroke="#f06020" stroke-width="3.0" fill="none" stroke-linecap="round" stroke-linejoin="round"/>
<path d="M1120.2 432.0L1130.9 440.0L1141.5 437.3" stroke="#f06020" stroke-width="3.0" fill="none" stroke-linecap="round" stroke-linejoin="round"/>
<path d="M1130.9 426.6L1138.9 437.3L1141.5 450.6" stroke="#f07020" stroke-width="2.6" fill="none" stroke-linecap="round" stroke-linejoin="round"/>
<path d="M968.3 537.3h0M988.3 531.9h0M1003.0 533.3h0M1018.4 548.7h0M1007.8 571.1h0M1003.8 594.6h0M1020.3 615.4h0M1040.3 627.9h0M1060.3 647.3h0M1080.3 657.2h0M1092.3 679.3h0M947.0 537.0h0M966.0 538.0h0" stroke="#a9a9a9" stroke-width="15.0" fill="none" stroke-linecap="round"/>
<path d="M955.0 418.7L968.3 416.0L981.6 414.7L993.6 416.5" stroke="#f0a020" stroke-width="3.0" fill="none" stroke-linecap="round" stroke-linejoin="round"/>
<path d="M955.0 426.6L965.7 424.0L976.3 429.3L984.3 434.6L989.6 442.6L1000.3 448.0L1008.3 453.3L1021.6 453.3L1034.9 453.3L1045.6 450.6L1056.3 445.3L1069.6 442.6L1080.3 442.6" stroke="#c81838" stroke-width="2.6" fill="none" stroke-linecap="round" stroke-linejoin="round"/>
<path d="M1008.3 453.3L1011.0 464.0L1019.0 469.3L1016.3 477.3L1011.0 485.3" stroke="#f08020" stroke-width="3.0" fill="none" stroke-linecap="round" stroke-linejoin="round"/>
<path d="M1080.3 442.6L1093.6 445.3L1104.2 448.0L1114.9 448.0L1128.2 445.3L1141.5 440.0L1152.2 434.6L1165.0 434.6" stroke="#f05018" stroke-width="4.0" fill="none" stroke-linecap="round" stroke-linejoin="round"/>
<path d="M1090.9 400.0L1098.9 410.7L1106.9 421.3L1114.9 429.3L1122.9 437.3L1125.6 453.3L1128.2 464.0" stroke="#f05018" stroke-width="4.0" fill="none" stroke-linecap="round" stroke-linejoin="round"/>
<path d="M1138.9 408.0L1144.2 421.3L1146.9 429.3" stroke="#f06020" stroke-width="3.5" fill="none" stroke-linecap="round" stroke-linejoin="round"/>
<path d="M1152.2 418.7L1157.5 426.6L1161.5 440.0L1160.2 453.3L1160.2 469.3" stroke="#f06020" stroke-width="4.0" fill="none" stroke-linecap="round" stroke-linejoin="round"/>
<path d="M955.0 491.9L965.7 487.9L976.3 490.6" stroke="#c81838" stroke-width="3.0" fill="none" stroke-linecap="round" stroke-linejoin="round"/>
<path d="M955.0 511.9L965.7 514.6" stroke="#f08020" stroke-width="3.0" fill="none" stroke-linecap="round" stroke-linejoin="round"/>
<path d="M971.0 511.9L981.6 510.6" stroke="#c81838" stroke-width="3.0" fill="none" stroke-linecap="round" stroke-linejoin="round"/>
<path d="M969.7 517.3L968.3 525.3L967.0 533.2" stroke="#7a0a8a" stroke-width="3.5" fill="none" stroke-linecap="round" stroke-linejoin="round"/>
<path d="M960.3 549.2L965.7 559.9L968.3 570.6L971.0 575.9L963.0 586.5" stroke="#7a0a8a" stroke-width="3.5" fill="none" stroke-linecap="round" stroke-linejoin="round"/>
<path d="M971.0 575.9L981.6 581.2L992.3 586.5L1000.3 591.9L1008.3 599.9" stroke="#7a0a8a" stroke-width="3.5" fill="none" stroke-linecap="round" stroke-linejoin="round"/>
<path d="M1008.3 589.2L1024.3 589.2" stroke="#7a0a8a" stroke-width="3.0" fill="none" stroke-linecap="round" stroke-linejoin="round"/>
<path d="M955.0 541.2L968.3 538.6L981.6 535.9L995.0 533.2L1008.3 535.9L1015.0 533.2" stroke="#80f070" stroke-width="3.5" fill="none" stroke-linecap="round" stroke-linejoin="round"/>
<path d="M1016.3 554.6L1011.0 565.2L1008.3 575.9L1012.3 586.5L1005.6 597.2L1001.6 605.2" stroke="#60e8a0" stroke-width="3.0" fill="none" stroke-linecap="round" stroke-linejoin="round"/>
<path d="M1015.0 530.6L1013.6 538.6L1019.0 546.6L1024.3 549.2" stroke="#1a50e8" stroke-width="3.0" fill="none" stroke-linecap="round" stroke-linejoin="round"/>
<path d="M1037.6 586.5h0M1037.6 598.5h0M1041.6 602.5h0" stroke="#3a1ccc" stroke-width="3.4" fill="none" stroke-linecap="round"/>
<path d="M1100.2 481.3h0M1025.1 523.1h0" stroke="#f08020" stroke-width="3.2" fill="none" stroke-linecap="round"/>
<path d="M1092.0 681.3h0M1102.8 701.9h0M1115.9 724.3h0M1106.1 745.9h0M1090.2 767.7h0M1070.1 781.6h0M1050.3 801.5h0M1031.5 823.6h0M1014.8 845.5h0M1009.6 867.3h0M1001.9 889.7h0M1009.6 911.6h0M1007.8 933.5h0M1005.0 954.8h0" stroke="#a9a9a9" stroke-width="14.4" fill="none" stroke-linecap="round"/>
<path d="M826.9 680.0L832.0 687.7L844.9 692.9L857.8 695.4L865.5 703.2L868.1 710.9L875.8 721.2L879.6 728.9L875.8 736.6L877.1 743.0" stroke="#30d0c0" stroke-width="3.5" fill="none" stroke-linecap="round" stroke-linejoin="round"/>
<path d="M870.6 743.0L888.7 744.3L909.2 744.3L924.7 745.6L935.0 741.8L942.7 744.3" stroke="#80f070" stroke-width="3.5" fill="none" stroke-linecap="round" stroke-linejoin="round"/>
<path d="M874.5 744.3L871.9 762.3" stroke="#70ec80" stroke-width="3.5" fill="none" stroke-linecap="round" stroke-linejoin="round"/>
<circle cx="1234.6" cy="456.8" r="22" class="cx"/>
<path d="M1219.0 441.2L1250.2 472.4M1250.2 441.2L1219.0 472.4" class="cx"/>
<path d="M1176.3 400.4L1185.8 400.4L1189.8 416.7L1192.5 433.0L1191.2 449.2L1188.5 462.8L1185.8 473.7L1179.0 484.5L1173.6 481.8L1174.9 468.2L1177.6 454.7L1177.6 435.7L1176.3 416.7Z" fill="#e03820" fill-opacity="0.75" stroke-opacity="0.75" stroke="#e03820" stroke-width="1.5" stroke-linejoin="round"/>
<path d="M1252.2 541.5h0M1261.7 538.7h0M1275.3 534.7h0M1283.4 549.6h0M1287.5 571.3h0M1291.5 594.3h0M1297.0 614.7h0M1298.3 628.3h0M1298.3 648.6h0M1298.3 658.1h0M1298.3 679.8h0" stroke="#a9a9a9" stroke-width="14.0" fill="none" stroke-linecap="round"/>
<path d="M1179.0 400.4L1180.3 416.7L1184.4 430.3L1187.1 443.8L1185.8 457.4L1181.7 470.9L1176.3 481.8" stroke="#f05018" stroke-width="6.5" fill="none" stroke-linecap="round" stroke-linejoin="round"/>
<path d="M1184.4 441.1L1189.8 449.2" stroke="#c81838" stroke-width="5.0" fill="none" stroke-linecap="round" stroke-linejoin="round"/>
<path d="M1160.0 443.8L1161.4 462.8" stroke="#f06020" stroke-width="4.0" fill="none" stroke-linecap="round" stroke-linejoin="round"/>
<path d="M1195.3 457.4h0M1200.7 452.0h0M1208.8 446.5h0M1187.1 489.9h0M1184.4 491.3h0M1192.5 427.5h0M1189.8 419.4h0" stroke="#c81838" stroke-width="3.4" fill="none" stroke-linecap="round"/>
<path d="M1195.3 473.7L1192.5 489.9L1193.9 503.5L1191.2 517.1L1189.8 530.6L1181.7 544.2L1176.3 557.7L1173.6 571.3" stroke="#1a6af0" stroke-width="5.0" fill="none" stroke-linecap="round" stroke-linejoin="round"/>
<path d="M1173.6 571.3L1170.8 584.9L1168.1 601.1L1170.8 617.4L1173.6 633.7" stroke="#18a0f0" stroke-width="5.0" fill="none" stroke-linecap="round" stroke-linejoin="round"/>
<path d="M1179.0 601.1L1187.1 612.0L1187.1 625.6L1185.8 639.1L1184.4 652.7L1184.4 666.2L1187.1 679.8L1189.8 690.1" stroke="#18b0f0" stroke-width="4.0" fill="none" stroke-linecap="round" stroke-linejoin="round"/>
<path d="M1189.8 473.7L1198.0 470.9L1206.1 473.7L1211.5 476.4" stroke="#30d0d0" stroke-width="3.0" fill="none" stroke-linecap="round" stroke-linejoin="round"/>
<path d="M1212.9 487.2L1217.0 481.8L1221.0 479.1" stroke="#30d0d0" stroke-width="3.0" fill="none" stroke-linecap="round" stroke-linejoin="round"/>
<path d="M1198.0 655.4L1195.3 666.2L1192.5 677.1" stroke="#40e0b0" stroke-width="3.0" fill="none" stroke-linecap="round" stroke-linejoin="round"/>
<path d="M1253.6 415.3L1244.1 424.8L1238.7 435.7L1235.9 446.5L1233.2 457.4" stroke="#f0a020" stroke-width="3.0" fill="none" stroke-linecap="round" stroke-linejoin="round"/>
<path d="M1233.2 484.5L1230.5 498.1" stroke="#e0b820" stroke-width="4.0" fill="none" stroke-linecap="round" stroke-linejoin="round"/>
<path d="M1233.2 462.8L1234.6 476.4L1238.7 487.2L1245.4 492.6" stroke="#4a18c0" stroke-width="3.5" fill="none" stroke-linecap="round" stroke-linejoin="round"/>
<path d="M1214.2 430.3L1218.3 435.7L1218.3 439.8" stroke="#7a0a8a" stroke-width="3.0" fill="none" stroke-linecap="round" stroke-linejoin="round"/>
<path d="M1218.3 449.2L1222.4 446.5" stroke="#3a30d0" stroke-width="3.0" fill="none" stroke-linecap="round" stroke-linejoin="round"/>
<path d="M1217.0 443.8L1222.4 449.2L1227.8 454.7L1233.2 460.1L1235.9 470.9L1238.7 484.5L1241.4 498.1L1244.1 511.6L1246.8 525.2L1249.5 536.0L1253.6 542.8L1263.1 536.0L1273.9 533.3L1279.3 536.0L1284.8 546.9L1287.5 557.7L1290.2 571.3L1292.9 584.9L1295.6 598.4L1297.0 612.0L1298.3 625.6" stroke="#60e8a0" stroke-width="3.5" fill="none" stroke-linecap="round" stroke-linejoin="round"/>
<path d="M1265.8 510.3L1263.1 522.5L1260.4 533.3" stroke="#a01060" stroke-width="3.0" fill="none" stroke-linecap="round" stroke-linejoin="round"/>
<path d="M1253.6 546.9L1253.6 563.2L1252.2 579.4L1250.9 593.0L1249.5 609.3" stroke="#5a10b0" stroke-width="4.0" fill="none" stroke-linecap="round" stroke-linejoin="round"/>
<path d="M1298.2 681.3h0M1295.1 701.9h0M1291.2 724.3h0M1284.8 746.1h0M1282.7 768.0h0M1278.3 781.6h0M1273.7 801.4h0M1273.7 823.6h0M1275.0 845.4h0M1276.5 867.8h0M1283.5 889.7h0M1287.3 911.5h0M1283.5 933.4h0M1279.6 954.8h0" stroke="#a9a9a9" stroke-width="14.0" fill="none" stroke-linecap="round"/>
<path d="M1190.9 680.0L1185.7 690.3L1181.9 705.7L1179.3 721.2L1178.0 731.5L1181.9 739.2" stroke="#30d0c0" stroke-width="4.0" fill="none" stroke-linecap="round" stroke-linejoin="round"/>
<path d="M1181.9 739.2L1185.7 744.3L1193.4 743.0" stroke="#70ec80" stroke-width="4.5" fill="none" stroke-linecap="round" stroke-linejoin="round"/>
<path d="M1180.6 746.9L1179.3 762.3" stroke="#70ec80" stroke-width="4.0" fill="none" stroke-linecap="round" stroke-linejoin="round"/>
<path d="M930.9 42.8L933.0 37.2L940.0 35.1L946.9 35.8L951.8 36.5L951.1 40.0L946.9 42.8L941.4 44.9L935.8 43.5Z" fill="#b01060" fill-opacity="0.7" stroke-opacity="0.7" stroke="#b01060" stroke-width="1.5" stroke-linejoin="round"/>
<path d="M976.2 33.7L983.2 31.6L994.4 30.9L1002.8 33.7L1004.8 41.4L997.2 42.1L988.8 43.5L980.4 41.4L976.9 37.9Z" fill="#5a18b8" fill-opacity="0.6" stroke-opacity="0.6" stroke="#5a18b8" stroke-width="1.5" stroke-linejoin="round"/>
<path d="M817.2 120.2L825.6 118.8L832.5 120.2L838.1 124.4L843.7 128.6L849.3 124.4L852.1 123.0L857.7 127.2L861.1 130.0L857.7 135.6L850.7 141.1L843.7 141.8L838.1 139.7L829.8 134.2L821.4 131.4L817.2 130.0Z" fill="#ff7a10" fill-opacity="0.85" stroke-opacity="0.85" stroke="#ff7a10" stroke-width="1.5" stroke-linejoin="round"/>
<path d="M764.9 85.3h0" stroke="#d8c820" stroke-width="5.6" fill="none" stroke-linecap="round"/>
<path d="M773.3 82.5h0M773.3 63.7h0M776.7 63.0h0M780.9 63.7h0M785.1 63.7h0" stroke="#e8d060" stroke-width="3.0" fill="none" stroke-linecap="round"/>
<path d="M789.3 61.9L789.6 82.5" stroke="#f0a020" stroke-width="2.4" fill="none" stroke-linecap="round" stroke-linejoin="round"/>
<path d="M792.8 55.3h0M794.9 65.1h0M798.4 60.2h0M800.5 58.1h0M803.2 50.5h0M803.2 60.9h0M807.4 63.0h0M810.2 67.2h0M810.9 53.9h0M813.7 54.6h0" stroke="#f0a830" stroke-width="2.8" fill="none" stroke-linecap="round"/>
<path d="M815.8 58.1L815.8 67.2" stroke="#f08a10" stroke-width="2.0" fill="none" stroke-linecap="round" stroke-linejoin="round"/>
<path d="M816.5 71.4L816.5 96.5" stroke="#f08a10" stroke-width="3.2" fill="none" stroke-linecap="round" stroke-linejoin="round"/>
<path d="M817.2 96.5L817.2 106.3" stroke="#f08a10" stroke-width="2.0" fill="none" stroke-linecap="round" stroke-linejoin="round"/>
<path d="M816.9 116.0L817.2 143.9" stroke="#f07a10" stroke-width="3.6" fill="none" stroke-linecap="round" stroke-linejoin="round"/>
<path d="M820.3 143.2h0" stroke="#f07a10" stroke-width="5.2" fill="none" stroke-linecap="round"/>
<path d="M817.5 121.6L827.0 120.5L832.5 121.9L838.1 127.2L843.7 132.8L849.3 130.0L852.1 124.4L856.3 130.0L860.4 130.0" stroke="#ff7a10" stroke-width="4.6" fill="none" stroke-linecap="round" stroke-linejoin="round"/>
<path d="M820.0 128.6L829.8 131.4L838.1 138.4L847.9 140.9L856.3 135.6" stroke="#ff6a10" stroke-width="4.6" fill="none" stroke-linecap="round" stroke-linejoin="round"/>
<path d="M827.0 124.4L835.3 130.0L843.7 135.6L850.7 135.6" stroke="#ff7010" stroke-width="4.0" fill="none" stroke-linecap="round" stroke-linejoin="round"/>
<path d="M818.6 150.9h0M842.3 69.3h0" stroke="#f07a10" stroke-width="3.0" fill="none" stroke-linecap="round"/>
<path d="M860.4 48.4h0M866.0 43.5h0M870.2 44.2h0M873.0 42.8h0M877.2 43.5h0M880.0 41.4h0M882.8 42.8h0M885.6 43.5h0M888.4 42.1h0M891.1 43.5h0M893.9 42.8h0M898.1 43.2h0M900.9 42.1h0M903.7 43.5h0M907.9 42.8h0M875.8 53.2h0M882.8 47.7h0M885.6 47.0h0M892.5 50.5h0" stroke="#f2461a" stroke-width="2.6" fill="none" stroke-linecap="round"/>
<path d="M859.8 67.2h0M866.0 66.5h0M870.2 67.2h0M874.4 67.9h0M878.6 64.4h0M880.0 67.2h0M884.2 66.5h0M887.0 67.9h0M891.1 67.5h0M895.3 66.5h0M899.5 67.9h0M903.7 67.2h0M907.9 68.3h0M913.5 67.5h0" stroke="#f2461a" stroke-width="2.6" fill="none" stroke-linecap="round"/>
<path d="M910.0 50.7L910.0 57.4" stroke="#d01040" stroke-width="3.0" fill="none" stroke-linecap="round" stroke-linejoin="round"/>
<path d="M910.7 61.6L911.1 88.1L911.4 114.6" stroke="#d01040" stroke-width="2.0" fill="none" stroke-linecap="round" stroke-linejoin="round"/>
<path d="M912.1 116.0L912.8 128.6L913.5 141.1" stroke="#d01040" stroke-width="4.6" fill="none" stroke-linecap="round" stroke-linejoin="round"/>
<path d="M926.7 134.2h0" stroke="#d01040" stroke-width="4.4" fill="none" stroke-linecap="round"/>
<path d="M931.6 43.5L935.8 40.0L941.4 40.7L946.9 38.6L951.1 37.9" stroke="#b01060" stroke-width="4.0" fill="none" stroke-linecap="round" stroke-linejoin="round"/>
<path d="M934.4 37.2L940.0 36.5L945.6 41.4" stroke="#b01060" stroke-width="3.0" fill="none" stroke-linecap="round" stroke-linejoin="round"/>
<path d="M948.3 43.5L951.8 50.5L952.5 65.8" stroke="#8a0a70" stroke-width="3.0" fill="none" stroke-linecap="round" stroke-linejoin="round"/>
<path d="M956.0 71.4L952.5 81.2" stroke="#8a0a70" stroke-width="3.4" fill="none" stroke-linecap="round" stroke-linejoin="round"/>
<path d="M952.5 83.9L953.2 100.7L954.6 116.0" stroke="#8a0a70" stroke-width="2.0" fill="none" stroke-linecap="round" stroke-linejoin="round"/>
<path d="M944.2 67.2h0M952.5 66.5h0" stroke="#8a0a70" stroke-width="3.0" fill="none" stroke-linecap="round"/>
<path d="M970.7 67.2h0M996.5 63.7h0" stroke="#5a10a0" stroke-width="5.2" fill="none" stroke-linecap="round"/>
<path d="M986.7 67.2h0" stroke="#5a10a0" stroke-width="3.0" fill="none" stroke-linecap="round"/>
<path d="M977.6 35.1L983.2 40.7L990.2 37.9L997.2 39.3L1004.1 41.0" stroke="#5a18b8" stroke-width="4.0" fill="none" stroke-linecap="round" stroke-linejoin="round"/>
<path d="M979.0 33.0L986.0 33.7L994.4 32.3L1000.0 35.1" stroke="#5a18b8" stroke-width="3.0" fill="none" stroke-linecap="round" stroke-linejoin="round"/>
<path d="M1004.1 47.7L1004.4 61.6" stroke="#3a1ccc" stroke-width="3.2" fill="none" stroke-linecap="round" stroke-linejoin="round"/>
<path d="M1004.8 71.4L1006.9 88.1" stroke="#3a1ccc" stroke-width="3.4" fill="none" stroke-linecap="round" stroke-linejoin="round"/>
<path d="M1006.9 96.5L1009.0 100.0" stroke="#3a1ccc" stroke-width="2.2" fill="none" stroke-linecap="round" stroke-linejoin="round"/>
<path d="M1012.5 110.4L1014.6 118.1L1016.7 125.8" stroke="#3a1ccc" stroke-width="1.8" fill="none" stroke-linecap="round" stroke-linejoin="round"/>
<path d="M1030.7 30.9L1034.8 35.1L1039.0 39.3" stroke="#3a1ccc" stroke-width="2.6" fill="none" stroke-linecap="round" stroke-linejoin="round"/>
<path d="M1028.6 67.2h0M1038.3 68.6h0" stroke="#3a1ccc" stroke-width="3.0" fill="none" stroke-linecap="round"/>
<path d="M1084.4 124.4L1092.8 121.6L1099.8 123.0L1105.3 127.2L1113.7 132.8L1120.7 135.6L1127.7 139.7L1134.6 142.5L1141.6 148.1L1147.2 150.9L1138.8 152.3L1127.7 153.0L1120.7 150.9L1113.7 146.7L1106.7 142.5L1099.8 138.4L1091.4 132.8L1085.1 128.6Z" fill="#1a70f0" fill-opacity="0.8" stroke-opacity="0.8" stroke="#1a70f0" stroke-width="1.5" stroke-linejoin="round"/>
<path d="M1030.0 30.9h0M1038.4 39.3h0M1050.2 42.1h0M1056.5 31.6h0M1060.0 31.6h0M1060.0 40.0h0M1071.2 30.2h0M1076.7 31.6h0M1071.9 42.1h0M1077.4 40.7h0M1079.5 38.6h0M1060.7 30.9h0" stroke="#3a1ccc" stroke-width="3.0" fill="none" stroke-linecap="round"/>
<path d="M1035.6 32.3L1038.4 35.1L1041.2 32.3L1044.0 35.1" stroke="#3a1ccc" stroke-width="2.2" fill="none" stroke-linecap="round" stroke-linejoin="round"/>
<path d="M1048.1 30.9L1048.1 36.5L1045.3 38.6" stroke="#3a1ccc" stroke-width="2.2" fill="none" stroke-linecap="round" stroke-linejoin="round"/>
<path d="M1038.4 68.6h0" stroke="#3a1ccc" stroke-width="4.8" fill="none" stroke-linecap="round"/>
<path d="M1079.5 42.1L1082.7 44.9L1083.0 54.6" stroke="#1a50e8" stroke-width="2.6" fill="none" stroke-linecap="round" stroke-linejoin="round"/>
<path d="M1083.0 60.2L1083.7 107.7L1084.4 125.8" stroke="#1a50e8" stroke-width="2.8" fill="none" stroke-linecap="round" stroke-linejoin="round"/>
<path d="M1084.4 125.8L1092.8 123.0L1098.4 123.7" stroke="#1a60ee" stroke-width="5.0" fill="none" stroke-linecap="round" stroke-linejoin="round"/>
<path d="M1085.8 127.2L1092.8 131.4L1099.8 135.6L1106.7 139.7L1113.7 142.5L1120.7 148.1L1126.3 152.3L1133.2 150.9L1138.8 149.5" stroke="#1a6af0" stroke-width="6.0" fill="none" stroke-linecap="round" stroke-linejoin="round"/>
<path d="M1106.7 132.8L1116.5 134.2" stroke="#1a80f0" stroke-width="3.5" fill="none" stroke-linecap="round" stroke-linejoin="round"/>
<path d="M1113.7 145.3L1127.7 149.5" stroke="#1a80f0" stroke-width="4.0" fill="none" stroke-linecap="round" stroke-linejoin="round"/>
<path d="M1120.7 146.7L1127.7 139.7L1134.6 134.2L1141.6 130.0L1148.6 127.9L1155.6 128.6L1163.9 130.0" stroke="#18a0ee" stroke-width="4.2" fill="none" stroke-linecap="round" stroke-linejoin="round"/>
<path d="M1163.9 130.0L1169.5 131.4L1176.5 132.8L1183.5 134.2L1190.4 132.8L1197.4 130.0" stroke="#22c4dc" stroke-width="4.2" fill="none" stroke-linecap="round" stroke-linejoin="round"/>
<path d="M1197.4 130.0L1204.4 127.2L1211.4 123.0L1218.3 120.9" stroke="#34d8b4" stroke-width="4.2" fill="none" stroke-linecap="round" stroke-linejoin="round"/>
<path d="M1127.7 148.1L1136.0 143.9L1147.2 141.1" stroke="#18a0ee" stroke-width="3.5" fill="none" stroke-linecap="round" stroke-linejoin="round"/>
<path d="M1113.7 31.6L1114.0 42.8" stroke="#1a80e8" stroke-width="3.0" fill="none" stroke-linecap="round" stroke-linejoin="round"/>
<path d="M1113.7 56.7L1113.7 78.4" stroke="#1a80e8" stroke-width="3.0" fill="none" stroke-linecap="round" stroke-linejoin="round"/>
<path d="M1147.9 24.0L1151.4 26.7L1152.8 35.1L1153.5 51.9L1153.9 68.6" stroke="#20a0e8" stroke-width="2.8" fill="none" stroke-linecap="round" stroke-linejoin="round"/>
<path d="M1154.6 82.5L1154.9 97.9" stroke="#20a8ec" stroke-width="2.2" fill="none" stroke-linecap="round" stroke-linejoin="round"/>
<path d="M1154.9 109.1L1155.1 124.4" stroke="#20a8ec" stroke-width="2.0" fill="none" stroke-linecap="round" stroke-linejoin="round"/>
<path d="M1156.3 135.6L1157.0 152.3" stroke="#20b0f0" stroke-width="2.6" fill="none" stroke-linecap="round" stroke-linejoin="round"/>
<path d="M1158.4 139.7L1161.1 140.4" stroke="#20b0f0" stroke-width="2.6" fill="none" stroke-linecap="round" stroke-linejoin="round"/>
<path d="M1158.4 150.9L1167.4 149.5" stroke="#20b0f0" stroke-width="3.5" fill="none" stroke-linecap="round" stroke-linejoin="round"/>
<path d="M1193.2 21.2L1195.3 25.3L1195.7 32.3" stroke="#30d0c0" stroke-width="2.6" fill="none" stroke-linecap="round" stroke-linejoin="round"/>
<path d="M1216.9 25.3h0M1219.7 23.3h0M1224.6 20.5h0M1225.3 23.3h0M1232.3 19.8h0M1235.1 23.3h0M1237.9 22.6h0M1192.5 139.7h0M1203.0 146.0h0M1211.4 147.4h0" stroke="#40d8b0" stroke-width="2.8" fill="none" stroke-linecap="round"/>
<path d="M1207.2 131.4L1214.2 132.8L1222.5 137.0L1230.9 139.7L1237.9 137.0L1243.5 135.6" stroke="#40e0a0" stroke-width="4.0" fill="none" stroke-linecap="round" stroke-linejoin="round"/>
<path d="M1240.7 28.8L1242.1 65.8L1242.8 107.7L1243.2 141.1" stroke="#50e890" stroke-width="2.4" fill="none" stroke-linecap="round" stroke-linejoin="round"/>
<path d="M1243.5 120.2L1253.2 120.2" stroke="#60ea80" stroke-width="3.0" fill="none" stroke-linecap="round" stroke-linejoin="round"/>
<path d="M1244.8 130.0L1253.2 131.4L1260.2 130.0L1267.2 128.6L1274.1 125.8L1281.1 123.7L1286.7 123.0" stroke="#70ec70" stroke-width="4.5" fill="none" stroke-linecap="round" stroke-linejoin="round"/>
<path d="M1244.8 137.0L1258.8 137.0" stroke="#70ec70" stroke-width="3.5" fill="none" stroke-linecap="round" stroke-linejoin="round"/>
<path d="M1279.7 19.1L1288.1 20.5L1292.3 26.7L1293.0 51.9L1294.4 81.2" stroke="#90ec50" stroke-width="3.0" fill="none" stroke-linecap="round" stroke-linejoin="round"/>
<circle cx="1539.3" cy="329.0" r="22" class="cx"/>
<path d="M1523.7 313.4L1554.9 344.6M1554.9 313.4L1523.7 344.6" class="cx"/>
<path d="M1577.9 311.0h0M1584.6 307.6h0M1589.9 304.3h0M1595.2 301.6h0M1600.6 299.0h0M1605.9 296.3h0M1611.2 293.6h0M1615.2 288.3h0M1616.6 281.6h0M1617.2 269.7h0M1623.2 265.7h0M1629.9 263.0h0M1639.2 263.0h0M1645.9 261.7h0M1653.9 263.0h0M1657.9 289.6h0M1649.9 291.0h0M1641.9 292.3h0M1633.9 289.6h0" stroke="#a9a9a9" stroke-width="12.6" fill="none" stroke-linecap="round"/>
<path d="M1502.0 333.6L1507.3 329.6L1516.6 332.3L1524.6 334.9L1532.6 333.6L1540.6 336.3L1548.6 340.3L1552.6 342.9" stroke="#4a18c8" stroke-width="5.0" fill="none" stroke-linecap="round" stroke-linejoin="round"/>
<path d="M1500.6 348.3L1506.0 344.3L1516.6 341.6L1524.6 341.6L1532.6 340.3L1540.6 337.6" stroke="#a01070" stroke-width="4.0" fill="none" stroke-linecap="round" stroke-linejoin="round"/>
<path d="M1503.3 345.6L1504.6 353.6L1506.0 360.3L1508.6 366.9L1512.6 370.9L1520.6 372.3L1529.9 369.6" stroke="#6a10a0" stroke-width="5.0" fill="none" stroke-linecap="round" stroke-linejoin="round"/>
<path d="M1478.0 375.6L1490.0 377.6L1503.3 377.6L1516.6 376.3L1524.6 378.9L1529.9 380.3" stroke="#8a1080" stroke-width="6.0" fill="none" stroke-linecap="round" stroke-linejoin="round"/>
<path d="M1483.3 378.9L1494.0 382.9L1503.3 386.9L1512.6 389.6L1522.0 392.2L1524.6 385.6L1526.0 378.9" stroke="#c03050" stroke-width="5.0" fill="none" stroke-linecap="round" stroke-linejoin="round"/>
<path d="M1524.6 382.9L1532.6 381.6L1540.6 377.6L1549.9 376.9L1559.3 378.9L1567.3 374.9L1572.6 369.6L1577.9 365.6L1585.9 362.9L1593.9 358.9L1601.9 354.9L1609.9 350.9L1615.2 348.3L1620.6 345.6" stroke="#e03020" stroke-width="4.0" fill="none" stroke-linecap="round" stroke-linejoin="round"/>
<path d="M1580.6 344.3L1589.9 342.9L1596.6 342.9L1609.9 344.3L1621.9 343.6L1627.2 349.6" stroke="#f05020" stroke-width="6.0" fill="none" stroke-linecap="round" stroke-linejoin="round"/>
<path d="M1609.9 346.9L1616.6 353.6L1619.2 348.3" stroke="#f08020" stroke-width="4.0" fill="none" stroke-linecap="round" stroke-linejoin="round"/>
<path d="M1497.3 326.7h0M1525.3 353.9h0M1573.9 346.7h0M1599.2 376.5h0M1535.3 365.6h0M1540.6 368.3h0" stroke="#a01070" stroke-width="3.6" fill="none" stroke-linecap="round"/>
<path d="M1524.6 293.6L1535.3 287.0L1545.9 287.6L1556.6 285.6L1567.3 284.3L1577.9 281.6L1588.6 279.7" stroke="#20a0f0" stroke-width="2.4" fill="none" stroke-linecap="round" stroke-linejoin="round"/>
<path d="M1576.6 281.0L1591.2 279.7" stroke="#40e0b0" stroke-width="3.0" fill="none" stroke-linecap="round" stroke-linejoin="round"/>
<path d="M1567.3 261.7L1576.6 264.3L1583.2 268.3L1589.9 271.0L1596.6 275.0L1603.2 280.3L1609.9 283.0" stroke="#1a70f0" stroke-width="2.0" fill="none" stroke-linecap="round" stroke-linejoin="round"/>
<path d="M1596.6 280.3L1603.2 284.3L1609.9 287.0" stroke="#3a30d8" stroke-width="3.5" fill="none" stroke-linecap="round" stroke-linejoin="round"/>
<path d="M1576.6 331.0h0M1583.2 332.3h0M1589.9 333.6h0M1595.2 333.6h0M1600.6 333.0h0" stroke="#80f070" stroke-width="4.0" fill="none" stroke-linecap="round"/>
<path d="M1535.3 334.9L1543.3 327.0L1551.3 324.3L1559.3 321.6L1567.3 317.6L1575.3 313.6L1583.2 309.6L1591.2 305.6L1599.2 301.6L1607.2 297.6L1615.2 292.3L1620.6 285.6L1623.2 279.0L1629.9 272.3L1636.5 267.0L1649.9 263.0L1660.0 261.7" stroke="#80f070" stroke-width="6.0" fill="none" stroke-linecap="round" stroke-linejoin="round"/>
<path d="M1563.3 312.3L1575.3 311.0L1583.2 307.0" stroke="#80f070" stroke-width="4.0" fill="none" stroke-linecap="round" stroke-linejoin="round"/>
<path d="M1596.6 313.6L1612.6 313.6" stroke="#80f070" stroke-width="3.0" fill="none" stroke-linecap="round" stroke-linejoin="round"/>
<path d="M1620.6 311.0h0M1623.2 308.3h0M1629.9 305.6h0M1636.5 301.6h0M1639.2 307.0h0M1655.2 303.0h0" stroke="#1a80f0" stroke-width="3.6" fill="none" stroke-linecap="round"/>
<path d="M1631.2 296.3L1632.6 300.3" stroke="#1a60f0" stroke-width="3.0" fill="none" stroke-linecap="round" stroke-linejoin="round"/>
<path d="M1629.9 288.3L1639.2 292.3L1649.9 292.3L1660.0 289.6" stroke="#2090f0" stroke-width="4.0" fill="none" stroke-linecap="round" stroke-linejoin="round"/>
<path d="M1631.2 280.3L1643.2 279.0L1660.0 280.3" stroke="#a01060" stroke-width="3.5" fill="none" stroke-linecap="round" stroke-linejoin="round"/>
<path d="M1623.2 272.3L1636.5 271.0L1649.9 269.7L1660.0 268.3" stroke="#30d0d0" stroke-width="3.0" fill="none" stroke-linecap="round" stroke-linejoin="round"/>
<path d="M1647.2 275.0L1660.0 273.7" stroke="#1a60f0" stroke-width="3.0" fill="none" stroke-linecap="round" stroke-linejoin="round"/>
<path d="M1651.7 291.0h0M1665.0 287.0h0M1679.6 283.6h0M1690.3 281.6h0M1671.6 261.7h0M1661.0 260.3h0M1682.3 260.3h0" stroke="#a9a9a9" stroke-width="12.6" fill="none" stroke-linecap="round"/>
<path d="M1645.0 263.0L1658.3 264.3L1671.6 265.7L1685.0 267.0" stroke="#80f070" stroke-width="4.0" fill="none" stroke-linecap="round" stroke-linejoin="round"/>
<path d="M1647.7 275.0L1655.7 272.3L1665.0 273.7" stroke="#1a60f0" stroke-width="6.0" fill="none" stroke-linecap="round" stroke-linejoin="round"/>
<path d="M1645.0 279.7L1658.3 280.3L1671.6 276.3L1685.0 272.3L1698.3 273.7L1711.6 269.7L1722.3 265.7" stroke="#b01050" stroke-width="5.0" fill="none" stroke-linecap="round" stroke-linejoin="round"/>
<path d="M1649.0 291.0L1658.3 287.0L1671.6 283.0L1685.0 277.7L1695.6 271.0L1701.0 263.0" stroke="#30e0c0" stroke-width="5.0" fill="none" stroke-linecap="round" stroke-linejoin="round"/>
<path d="M1685.0 263.0L1691.6 264.3" stroke="#f04020" stroke-width="4.0" fill="none" stroke-linecap="round" stroke-linejoin="round"/>
<path d="M1701.0 263.0h0M1709.0 263.0h0M1717.0 263.0h0M1719.6 262.3h0M1699.6 267.7h0" stroke="#f04020" stroke-width="4.4" fill="none" stroke-linecap="round"/>
<path d="M1655.0 302.7h0M1720.3 270.7h0M1681.0 287.6h0" stroke="#1a60f0" stroke-width="3.6" fill="none" stroke-linecap="round"/>
<path d="M1712.7 288.0h0" stroke="#b01050" stroke-width="3.6" fill="none" stroke-linecap="round"/>
<circle cx="1538.8" cy="440.5" r="22" class="cx"/>
<path d="M1523.2 424.9L1554.3 456.1M1554.3 424.9L1523.2 456.1" class="cx"/>
<path d="M1580.6 498.6h0M1593.9 497.3h0M1607.2 490.6h0M1617.9 492.0h0M1628.6 504.0h0M1620.6 518.6h0M1620.6 534.6h0M1631.2 550.6h0M1644.6 558.6h0M1656.6 571.9h0M1652.6 679.8h0" stroke="#a9a9a9" stroke-width="13.2" fill="none" stroke-linecap="round"/>
<path d="M1500.6 400.0L1511.3 408.0L1519.3 416.0L1529.9 424.0L1537.9 434.6" stroke="#4a18c8" stroke-width="4.0" fill="none" stroke-linecap="round" stroke-linejoin="round"/>
<path d="M1548.6 400.0L1543.3 410.7L1540.6 421.3L1537.9 434.6" stroke="#3a1ccc" stroke-width="5.0" fill="none" stroke-linecap="round" stroke-linejoin="round"/>
<path d="M1500.6 461.3L1506.0 453.3L1511.3 448.0L1519.3 442.6L1527.3 437.3" stroke="#6a10a0" stroke-width="5.0" fill="none" stroke-linecap="round" stroke-linejoin="round"/>
<path d="M1503.3 456.0L1511.3 453.3" stroke="#6a10a0" stroke-width="4.0" fill="none" stroke-linecap="round" stroke-linejoin="round"/>
<path d="M1529.9 458.6L1527.3 469.3L1524.6 479.9L1527.3 495.9L1524.6 506.6L1522.0 517.3L1516.6 527.9L1503.3 538.6L1490.0 549.2L1479.3 559.9L1487.3 570.6L1492.6 581.2L1498.0 591.9L1511.3 605.2L1522.0 607.9L1527.3 618.5L1532.6 629.2L1537.9 637.2" stroke="#8a0a80" stroke-width="3.5" fill="none" stroke-linecap="round" stroke-linejoin="round"/>
<path d="M1537.9 637.2L1556.6 641.2L1572.6 639.8L1588.6 641.2L1596.6 639.8L1604.6 631.9L1609.9 621.2" stroke="#c01840" stroke-width="3.5" fill="none" stroke-linecap="round" stroke-linejoin="round"/>
<path d="M1609.9 621.2L1609.9 605.2L1611.2 586.5L1612.6 570.6L1612.6 559.9L1615.2 546.6L1612.6 533.2L1609.9 522.6L1609.9 511.9" stroke="#f07020" stroke-width="4.0" fill="none" stroke-linecap="round" stroke-linejoin="round"/>
<path d="M1609.9 511.9L1599.2 506.6L1585.9 503.9L1580.6 501.3" stroke="#e03020" stroke-width="3.5" fill="none" stroke-linecap="round" stroke-linejoin="round"/>
<path d="M1540.6 440.0L1545.9 453.3L1551.3 466.6L1559.3 477.3L1569.9 487.9L1577.9 493.3L1588.6 495.9L1599.2 493.3L1609.9 491.9L1620.6 494.6L1625.9 501.3L1625.9 511.9L1623.2 522.6L1620.6 533.2L1623.2 543.9L1631.2 551.9L1641.9 557.2L1652.5 565.2L1660.0 573.2" stroke="#60e0a0" stroke-width="3.5" fill="none" stroke-linecap="round" stroke-linejoin="round"/>
<path d="M1631.2 642.5L1641.9 634.5L1652.5 629.2L1660.0 623.9" stroke="#a01060" stroke-width="3.0" fill="none" stroke-linecap="round" stroke-linejoin="round"/>
<path d="M1647.2 674.5L1652.5 679.8L1660.0 671.8" stroke="#40d0c0" stroke-width="3.0" fill="none" stroke-linecap="round" stroke-linejoin="round"/>
<path d="M1577.9 446.6h0M1547.3 500.7h0M1510.0 498.1h0M1593.9 545.2h0M1592.6 539.9h0M1502.0 630.5h0" stroke="#a01060" stroke-width="3.4" fill="none" stroke-linecap="round"/>
<path d="M1646.3 557.2h0M1659.7 571.9h0M1671.7 579.9h0M1679.6 597.2h0M1687.6 610.6h0M1697.0 626.5h0M1690.3 642.0h0M1678.3 657.2h0M1665.0 666.5h0M1650.3 681.2h0" stroke="#a9a9a9" stroke-width="13.2" fill="none" stroke-linecap="round"/>
<path d="M1645.0 559.9L1658.3 573.2L1671.6 578.6L1679.6 591.9L1685.0 602.5L1690.3 613.2L1695.6 623.9L1693.0 634.5L1687.6 645.2L1677.0 658.5L1666.3 666.5L1655.7 677.2L1647.7 685.2" stroke="#40e0c0" stroke-width="4.0" fill="none" stroke-linecap="round" stroke-linejoin="round"/>
<path d="M1645.0 559.9L1655.7 570.6L1669.0 575.9L1677.0 586.5" stroke="#80f070" stroke-width="3.0" fill="none" stroke-linecap="round" stroke-linejoin="round"/>
<path d="M1671.6 570.6L1679.6 569.2L1691.6 569.8" stroke="#f05020" stroke-width="3.0" fill="none" stroke-linecap="round" stroke-linejoin="round"/>
<path d="M1698.3 562.6L1709.0 566.6" stroke="#f05020" stroke-width="2.6" fill="none" stroke-linecap="round" stroke-linejoin="round"/>
<path d="M1699.6 575.9L1709.0 581.2L1714.3 583.9L1721.0 591.9" stroke="#f05020" stroke-width="2.4" fill="none" stroke-linecap="round" stroke-linejoin="round"/>
<path d="M1679.6 595.9L1689.0 597.2" stroke="#f08020" stroke-width="3.5" fill="none" stroke-linecap="round" stroke-linejoin="round"/>
<path d="M1645.0 630.5L1655.7 623.9L1666.3 613.2L1679.6 609.2L1685.0 607.9" stroke="#a01060" stroke-width="3.5" fill="none" stroke-linecap="round" stroke-linejoin="round"/>
<path d="M1698.3 629.2L1709.0 637.2L1721.0 641.2" stroke="#a01060" stroke-width="3.0" fill="none" stroke-linecap="round" stroke-linejoin="round"/>
<path d="M1690.3 650.5L1698.3 662.5" stroke="#a01060" stroke-width="2.6" fill="none" stroke-linecap="round" stroke-linejoin="round"/>
<path d="M1658.3 687.8L1671.6 677.2L1675.6 669.2" stroke="#a01060" stroke-width="3.0" fill="none" stroke-linecap="round" stroke-linejoin="round"/>
<path d="M1686.3 561.2h0M1719.6 613.2h0M1711.6 683.8h0M1649.0 519.4h0" stroke="#5a10a0" stroke-width="3.4" fill="none" stroke-linecap="round"/>
<path d="M1650.7 682.6h0M1639.1 696.7h0M1627.5 712.2h0M1623.7 727.6h0M1618.5 743.0h0M1623.7 758.5h0M1621.1 773.9h0M1619.8 789.3h0M1618.5 800.9h0M1617.2 808.6h0M1613.4 822.8h0M1608.2 838.2h0M1603.1 854.9h0M1601.8 861.4h0M1590.2 876.8h0" stroke="#a9a9a9" stroke-width="14.0" fill="none" stroke-linecap="round"/>
<path d="M1650.7 682.6L1639.1 696.7L1627.5 705.7L1626.2 718.6L1622.4 731.5L1619.8 744.3L1625.0 757.2L1627.5 770.1L1625.0 782.9L1621.1 795.8L1617.2 808.6L1614.7 821.5L1610.8 834.4L1606.9 849.8L1601.8 862.7L1594.1 875.5L1583.8 885.8L1573.5 891.0L1565.8 896.1L1563.2 906.4L1560.6 914.1L1563.2 924.4L1568.4 937.3L1565.8 952.7" stroke="#80f070" stroke-width="3.0" fill="none" stroke-linecap="round" stroke-linejoin="round"/>
<path d="M1627.5 770.1L1622.4 788.1L1619.8 803.5" stroke="#40d8d0" stroke-width="2.0" fill="none" stroke-linecap="round" stroke-linejoin="round"/>
<path d="M1645.5 690.3L1655.8 683.9L1668.7 680.0" stroke="#a01060" stroke-width="4.0" fill="none" stroke-linecap="round" stroke-linejoin="round"/>
<path d="M1597.9 709.6L1609.5 704.4L1625.0 700.6L1639.1 699.3" stroke="#3a1ccc" stroke-width="3.0" fill="none" stroke-linecap="round" stroke-linejoin="round"/>
<path d="M1588.9 764.9L1578.6 768.8L1568.4 775.2L1558.1 779.1L1547.8 777.8L1534.9 781.6" stroke="#1a70f0" stroke-width="2.2" fill="none" stroke-linecap="round" stroke-linejoin="round"/>
<path d="M1550.3 793.2L1542.6 799.6" stroke="#1a80f0" stroke-width="2.0" fill="none" stroke-linecap="round" stroke-linejoin="round"/>
<path d="M1529.8 809.9L1524.6 815.1" stroke="#1a80f0" stroke-width="2.0" fill="none" stroke-linecap="round" stroke-linejoin="round"/>
<path d="M1583.8 793.2L1581.2 799.6" stroke="#1a80f0" stroke-width="2.0" fill="none" stroke-linecap="round" stroke-linejoin="round"/>
<path d="M1599.2 790.6L1597.9 803.5" stroke="#1a80f0" stroke-width="2.0" fill="none" stroke-linecap="round" stroke-linejoin="round"/>
<path d="M1604.4 764.9L1601.8 777.8L1596.7 785.5" stroke="#1a80f0" stroke-width="2.0" fill="none" stroke-linecap="round" stroke-linejoin="round"/>
<path d="M1635.2 762.3L1645.5 764.9L1655.8 762.3L1666.1 755.9L1676.4 754.6L1681.6 762.3" stroke="#1a60f0" stroke-width="2.6" fill="none" stroke-linecap="round" stroke-linejoin="round"/>
<path d="M1648.1 770.1L1655.8 772.6L1663.6 780.3L1666.1 785.5" stroke="#1a60f0" stroke-width="3.0" fill="none" stroke-linecap="round" stroke-linejoin="round"/>
<path d="M1630.1 798.4L1640.4 797.1L1648.1 793.2" stroke="#1a60f0" stroke-width="3.0" fill="none" stroke-linecap="round" stroke-linejoin="round"/>
<path d="M1632.7 803.5L1631.4 808.6" stroke="#1a60f0" stroke-width="2.6" fill="none" stroke-linecap="round" stroke-linejoin="round"/>
<path d="M1627.5 818.9L1626.2 825.4" stroke="#1a60f0" stroke-width="2.6" fill="none" stroke-linecap="round" stroke-linejoin="round"/>
<path d="M1643.0 731.5L1641.7 746.9" stroke="#1a90f0" stroke-width="2.2" fill="none" stroke-linecap="round" stroke-linejoin="round"/>
<path d="M1635.2 777.8L1635.2 781.6" stroke="#1a60f0" stroke-width="2.4" fill="none" stroke-linecap="round" stroke-linejoin="round"/>
<path d="M1573.5 873.0L1581.2 893.6L1586.4 903.8L1591.5 914.1" stroke="#80f070" stroke-width="2.0" fill="none" stroke-linecap="round" stroke-linejoin="round"/>
<path d="M1576.1 911.6L1578.6 927.0" stroke="#80f070" stroke-width="2.0" fill="none" stroke-linecap="round" stroke-linejoin="round"/>
<path d="M1596.7 934.7L1606.9 934.7" stroke="#80f070" stroke-width="2.0" fill="none" stroke-linecap="round" stroke-linejoin="round"/>
<path d="M1604.4 919.3L1609.5 937.3L1612.1 952.7" stroke="#80f070" stroke-width="2.0" fill="none" stroke-linecap="round" stroke-linejoin="round"/>
<path d="M1712.4 683.9h0" stroke="#a01060" stroke-width="3.2" fill="none" stroke-linecap="round"/>
<path d="M1596.7 737.9h0M1563.2 767.5h0M1567.1 812.5h0" stroke="#3a1ccc" stroke-width="4.0" fill="none" stroke-linecap="round"/>
<circle cx="1921.8" cy="439.8" r="22" class="cx"/>
<path d="M1906.2 424.2L1937.4 455.3M1937.4 424.2L1906.2 455.3" class="cx"/>
<path d="M1937.5 496.7h0M1951.1 489.9h0M1961.9 491.3h0M1971.4 503.5h0M1975.5 519.8h0M1979.5 536.0h0M1983.6 549.6h0M1983.6 560.4h0M1985.0 574.0h0M1983.6 584.9h0M1985.0 595.7h0M1978.2 612.0h0M1976.8 628.3h0M1970.0 643.2h0M1967.3 658.1h0M1961.9 677.1h0" stroke="#a9a9a9" stroke-width="13.6" fill="none" stroke-linecap="round"/>
<path d="M1913.1 400.4L1915.8 411.3L1915.8 422.1L1918.5 435.7" stroke="#4a18c8" stroke-width="6.0" fill="none" stroke-linecap="round" stroke-linejoin="round"/>
<path d="M1910.4 433.0L1905.0 441.1L1902.2 452.0L1902.2 461.5L1899.5 457.4L1894.1 453.3L1883.3 452.0L1877.8 453.3L1875.1 465.5L1876.5 481.8L1875.1 492.6L1869.7 498.1L1864.3 506.2L1858.8 517.1L1860.2 530.6L1864.3 541.5L1869.7 549.6L1873.8 560.5L1872.4 576.7L1873.8 590.3L1872.4 603.9L1867.0 612.0L1864.3 625.6L1867.0 633.7" stroke="#8a0a80" stroke-width="4.0" fill="none" stroke-linecap="round" stroke-linejoin="round"/>
<path d="M1867.0 633.7L1875.1 639.1L1886.0 640.5L1892.8 641.8L1891.4 625.6" stroke="#d03030" stroke-width="4.0" fill="none" stroke-linecap="round" stroke-linejoin="round"/>
<path d="M1891.4 625.6L1895.5 612.0L1898.2 598.4L1898.2 584.9L1899.5 571.3L1898.2 563.2L1900.9 552.3L1903.6 541.5L1902.2 530.6L1898.2 522.5L1900.9 514.3L1905.0 506.2L1909.0 495.4" stroke="#f07020" stroke-width="4.5" fill="none" stroke-linecap="round" stroke-linejoin="round"/>
<path d="M1915.8 435.7L1921.2 446.5L1923.9 460.1L1925.3 468.2L1929.4 481.8L1934.8 492.6L1940.2 498.1L1951.1 492.6L1961.9 492.6L1971.4 503.5L1975.5 519.8L1979.6 536.0L1983.6 552.3L1986.3 568.6L1985.0 584.9L1982.3 601.1L1978.2 612.0L1974.1 628.3L1970.1 644.5L1967.3 660.8L1961.9 677.1L1959.2 690.1" stroke="#60e0b0" stroke-width="4.0" fill="none" stroke-linecap="round" stroke-linejoin="round"/>
<path d="M1980.9 606.6L1975.5 612.0L1971.4 622.8L1970.1 633.7L1967.3 639.1L1975.5 637.8L1983.6 640.5" stroke="#a01060" stroke-width="4.0" fill="none" stroke-linecap="round" stroke-linejoin="round"/>
<path d="M1961.9 677.1L1967.3 690.1" stroke="#a01060" stroke-width="3.0" fill="none" stroke-linecap="round" stroke-linejoin="round"/>
<path d="M1961.2 681.3h0M1960.7 696.7h0M1961.2 712.2h0M1963.3 727.6h0M1970.2 743.0h0M1974.1 758.5h0M1972.8 775.2h0M1966.3 790.6h0M1963.8 806.1h0M1957.3 822.8h0M1954.8 838.2h0M1952.2 854.9h0M1950.9 860.1h0M1944.5 876.8h0" stroke="#a9a9a9" stroke-width="14.0" fill="none" stroke-linecap="round"/>
<path d="M1958.6 680.0L1961.2 692.9L1963.8 708.3" stroke="#7a0a8a" stroke-width="3.5" fill="none" stroke-linecap="round" stroke-linejoin="round"/>
<path d="M1967.6 680.0L1968.9 687.7" stroke="#a01060" stroke-width="3.5" fill="none" stroke-linecap="round" stroke-linejoin="round"/>
<path d="M1961.2 680.0L1961.2 695.4L1962.5 710.9L1966.4 731.5L1971.5 746.9L1974.1 759.8L1970.2 775.2L1965.1 790.6L1961.2 806.1L1957.3 824.1L1953.5 839.5L1950.9 857.5L1945.8 875.5L1940.6 891.0L1935.5 903.8L1930.3 916.7L1927.8 932.1L1930.3 947.6L1931.6 957.9" stroke="#80f070" stroke-width="3.5" fill="none" stroke-linecap="round" stroke-linejoin="round"/>
<path d="M1966.4 731.5L1971.5 757.2L1966.4 788.1L1961.2 808.6" stroke="#40d8d0" stroke-width="2.4" fill="none" stroke-linecap="round" stroke-linejoin="round"/>
<path d="M1961.2 759.8L1968.9 767.5L1974.1 757.2L1981.8 759.8" stroke="#1a70f0" stroke-width="3.5" fill="none" stroke-linecap="round" stroke-linejoin="round"/>
<path d="M1963.8 772.6L1968.9 777.8L1974.1 782.9" stroke="#1a70f0" stroke-width="3.5" fill="none" stroke-linecap="round" stroke-linejoin="round"/>
<path d="M1961.2 793.2L1956.1 798.4L1948.3 806.1" stroke="#1a60f0" stroke-width="3.2" fill="none" stroke-linecap="round" stroke-linejoin="round"/>
<path d="M1945.8 818.9L1940.6 829.2L1938.1 834.4" stroke="#1a80f0" stroke-width="2.6" fill="none" stroke-linecap="round" stroke-linejoin="round"/>
<path d="M1986.9 731.5L1988.2 744.3" stroke="#1a80f0" stroke-width="2.0" fill="none" stroke-linecap="round" stroke-linejoin="round"/>
<path d="M1976.6 793.2L1981.8 798.4L1986.9 808.6" stroke="#1a80f0" stroke-width="2.0" fill="none" stroke-linecap="round" stroke-linejoin="round"/>
<path d="M1917.5 906.4L1914.9 919.3L1916.2 934.7" stroke="#80f070" stroke-width="2.0" fill="none" stroke-linecap="round" stroke-linejoin="round"/>
<path d="M1938.1 898.7L1935.5 906.4" stroke="#80f070" stroke-width="2.0" fill="none" stroke-linecap="round" stroke-linejoin="round"/>
<path d="M1938.1 934.7L1936.8 945.0" stroke="#80f070" stroke-width="2.0" fill="none" stroke-linecap="round" stroke-linejoin="round"/>
<path d="M1535.4 17.3L1561.6 17.3L1561.6 33.7L1535.4 32.3Z" fill="#f05020" fill-opacity="0.45" stroke-opacity="0.45" stroke="#f05020" stroke-width="1.5" stroke-linejoin="round"/>
<path d="M1452.8 19.1L1458.4 19.1L1462.6 21.2L1463.3 26.7" stroke="#e0b820" stroke-width="3.6" fill="none" stroke-linecap="round" stroke-linejoin="round"/>
<path d="M1463.3 26.7L1464.0 79.8L1464.6 121.6L1465.1 150.9" stroke="#e0b820" stroke-width="2.6" fill="none" stroke-linecap="round" stroke-linejoin="round"/>
<path d="M1465.3 120.2L1468.1 116.0L1473.7 110.4L1477.9 104.9" stroke="#e0b820" stroke-width="5.0" fill="none" stroke-linecap="round" stroke-linejoin="round"/>
<path d="M1474.4 123.7h0" stroke="#e0b820" stroke-width="3.0" fill="none" stroke-linecap="round"/>
<path d="M1474.4 19.1L1483.5 19.1L1487.7 19.8L1489.8 26.7" stroke="#f0a020" stroke-width="3.6" fill="none" stroke-linecap="round" stroke-linejoin="round"/>
<path d="M1490.2 26.7L1490.5 46.3" stroke="#f0a020" stroke-width="2.4" fill="none" stroke-linecap="round" stroke-linejoin="round"/>
<path d="M1490.5 51.9h0" stroke="#f0a020" stroke-width="4.0" fill="none" stroke-linecap="round"/>
<path d="M1490.5 68.6L1490.9 107.7L1491.2 145.3" stroke="#f0a020" stroke-width="2.4" fill="none" stroke-linecap="round" stroke-linejoin="round"/>
<path d="M1490.7 107.7L1491.9 104.9L1497.4 102.1L1503.0 97.2L1504.4 96.2" stroke="#f09010" stroke-width="6.0" fill="none" stroke-linecap="round" stroke-linejoin="round"/>
<path d="M1504.4 17.7L1511.4 18.4L1517.0 21.2L1522.5 18.6L1526.7 21.2L1528.4 24.0" stroke="#f07818" stroke-width="5.5" fill="none" stroke-linecap="round" stroke-linejoin="round"/>
<path d="M1514.2 24.0L1519.8 26.7" stroke="#f07818" stroke-width="4.0" fill="none" stroke-linecap="round" stroke-linejoin="round"/>
<path d="M1528.8 24.0L1528.8 54.6" stroke="#f07818" stroke-width="2.0" fill="none" stroke-linecap="round" stroke-linejoin="round"/>
<path d="M1529.1 65.8L1529.2 107.7L1529.5 146.7" stroke="#f07818" stroke-width="3.0" fill="none" stroke-linecap="round" stroke-linejoin="round"/>
<path d="M1530.2 107.7L1533.7 100.7L1537.9 97.9L1543.5 98.6" stroke="#f07818" stroke-width="6.0" fill="none" stroke-linecap="round" stroke-linejoin="round"/>
<path d="M1537.9 104.9h0" stroke="#f07818" stroke-width="3.2" fill="none" stroke-linecap="round"/>
<path d="M1535.8 19.8L1542.1 18.4L1547.7 18.4L1554.6 19.8L1560.2 21.2" stroke="#f05020" stroke-width="2.6" fill="none" stroke-linecap="round" stroke-linejoin="round"/>
<path d="M1536.5 25.3L1542.1 24.0L1547.7 24.0L1556.0 25.3" stroke="#f05020" stroke-width="2.6" fill="none" stroke-linecap="round" stroke-linejoin="round"/>
<path d="M1535.8 30.9L1542.1 30.9L1547.7 31.6L1560.2 33.0" stroke="#f05020" stroke-width="3.0" fill="none" stroke-linecap="round" stroke-linejoin="round"/>
<path d="M1539.3 22.6h0M1544.9 21.9h0M1550.4 28.1h0M1556.0 23.3h0M1540.7 28.1h0M1547.7 27.4h0" stroke="#f05020" stroke-width="2.8" fill="none" stroke-linecap="round"/>
<path d="M1563.7 15.6L1564.4 93.7L1564.7 148.1" stroke="#f04818" stroke-width="3.0" fill="none" stroke-linecap="round" stroke-linejoin="round"/>
<path d="M1565.8 95.8h0" stroke="#f04818" stroke-width="6.4" fill="none" stroke-linecap="round"/>
<path d="M1572.8 24.0L1574.2 30.9L1578.4 35.1L1582.5 33.7L1586.7 30.9L1589.5 24.0" stroke="#e02030" stroke-width="2.6" fill="none" stroke-linecap="round" stroke-linejoin="round"/>
<path d="M1588.8 17.7L1589.5 42.1" stroke="#e02030" stroke-width="4.0" fill="none" stroke-linecap="round" stroke-linejoin="round"/>
<path d="M1598.6 35.1h0" stroke="#e02030" stroke-width="3.6" fill="none" stroke-linecap="round"/>
<path d="M1589.5 75.6L1589.9 85.3" stroke="#e02030" stroke-width="1.8" fill="none" stroke-linecap="round" stroke-linejoin="round"/>
<path d="M1589.9 96.5h0" stroke="#e02030" stroke-width="3.2" fill="none" stroke-linecap="round"/>
<path d="M1605.6 16.3L1606.3 46.3" stroke="#d01040" stroke-width="3.0" fill="none" stroke-linecap="round" stroke-linejoin="round"/>
<path d="M1606.3 67.2h0" stroke="#d01040" stroke-width="4.4" fill="none" stroke-linecap="round"/>
<path d="M1606.3 71.4L1606.7 107.7L1607.0 145.3" stroke="#d01040" stroke-width="4.0" fill="none" stroke-linecap="round" stroke-linejoin="round"/>
<path d="M1617.0 17.0L1617.4 44.9" stroke="#c01050" stroke-width="3.0" fill="none" stroke-linecap="round" stroke-linejoin="round"/>
<path d="M1614.6 42.4L1621.6 43.8" stroke="#c01050" stroke-width="3.0" fill="none" stroke-linecap="round" stroke-linejoin="round"/>
<path d="M1618.1 54.6h0" stroke="#c01050" stroke-width="3.2" fill="none" stroke-linecap="round"/>
<path d="M1628.6 17.0L1629.3 37.9" stroke="#b01060" stroke-width="3.0" fill="none" stroke-linecap="round" stroke-linejoin="round"/>
<path d="M1623.0 44.2L1630.0 44.9" stroke="#b01060" stroke-width="3.0" fill="none" stroke-linecap="round" stroke-linejoin="round"/>
<path d="M1639.0 18.4L1639.7 40.7" stroke="#a01070" stroke-width="3.0" fill="none" stroke-linecap="round" stroke-linejoin="round"/>
<path d="M1632.8 44.9L1638.3 44.9" stroke="#a01070" stroke-width="3.0" fill="none" stroke-linecap="round" stroke-linejoin="round"/>
<path d="M1650.9 17.0L1651.6 46.3L1652.3 128.6" stroke="#8a0a80" stroke-width="3.2" fill="none" stroke-linecap="round" stroke-linejoin="round"/>
<path d="M1643.9 45.6L1651.6 44.9" stroke="#8a0a80" stroke-width="4.0" fill="none" stroke-linecap="round" stroke-linejoin="round"/>
<path d="M1653.0 132.8h0M1653.0 141.8h0" stroke="#8a0a80" stroke-width="3.2" fill="none" stroke-linecap="round"/>
<path d="M1666.9 15.6L1667.6 44.9L1668.3 142.5" stroke="#800a90" stroke-width="3.2" fill="none" stroke-linecap="round" stroke-linejoin="round"/>
<path d="M1656.5 44.9L1666.9 44.2" stroke="#800a90" stroke-width="4.0" fill="none" stroke-linecap="round" stroke-linejoin="round"/>
<path d="M1674.6 43.5L1687.2 42.8L1695.5 42.1" stroke="#5a10b0" stroke-width="4.0" fill="none" stroke-linecap="round" stroke-linejoin="round"/>
<path d="M1696.9 37.2L1698.3 41.4" stroke="#5a10b0" stroke-width="5.0" fill="none" stroke-linecap="round" stroke-linejoin="round"/>
<path d="M1700.4 15.6L1701.1 79.8L1701.1 127.2" stroke="#4a18c8" stroke-width="3.2" fill="none" stroke-linecap="round" stroke-linejoin="round"/>
<path d="M1701.1 83.9L1703.9 89.5L1706.7 95.1" stroke="#4a18c8" stroke-width="4.5" fill="none" stroke-linecap="round" stroke-linejoin="round"/>
<path d="M1706.0 81.2L1706.7 90.9" stroke="#4a18c8" stroke-width="3.5" fill="none" stroke-linecap="round" stroke-linejoin="round"/>
<path d="M1719.3 35.1L1723.4 32.3L1727.6 29.5" stroke="#4a18c8" stroke-width="3.0" fill="none" stroke-linecap="round" stroke-linejoin="round"/>
<path d="M1727.6 91.6h0" stroke="#4a18c8" stroke-width="2.8" fill="none" stroke-linecap="round"/>
<path d="M1731.9 35.1h0M1745.1 32.3h0M1743.0 40.0h0M1756.3 34.4h0M1757.7 37.9h0M1759.1 29.5h0M1760.5 32.3h0M1761.9 39.3h0M1764.6 42.8h0M1767.4 25.3h0M1768.1 36.5h0M1768.8 30.9h0M1770.2 22.6h0M1771.6 25.3h0M1772.3 37.9h0M1773.0 42.1h0M1774.4 51.9h0M1775.8 43.5h0M1777.2 54.6h0M1780.0 30.9h0M1781.4 47.7h0M1782.1 35.1h0M1782.8 53.2h0M1784.2 44.9h0M1785.6 47.7h0M1787.0 42.1h0M1788.4 35.1h0M1788.4 51.9h0M1788.4 54.6h0M1787.7 60.9h0M1790.5 17.0h0M1792.5 24.0h0M1793.2 28.1h0M1796.0 30.9h0M1796.7 35.1h0M1796.7 43.5h0M1798.1 54.6h0M1803.7 33.7h0M1807.2 43.5h0M1809.3 49.8h0M1766.7 40.0h0M1770.9 41.4h0M1775.1 44.2h0M1778.6 53.2h0M1783.5 49.1h0M1786.3 44.9h0" stroke="#2040e0" stroke-width="3.2" fill="none" stroke-linecap="round"/>
<path d="M1768.8 37.9L1773.0 40.7L1776.5 43.5" stroke="#2040e0" stroke-width="2.5" fill="none" stroke-linecap="round" stroke-linejoin="round"/>
<path d="M1780.0 29.5L1781.4 36.5" stroke="#2040e0" stroke-width="2.5" fill="none" stroke-linecap="round" stroke-linejoin="round"/>
<path d="M1787.7 37.9L1788.4 50.5" stroke="#2040e0" stroke-width="2.5" fill="none" stroke-linecap="round" stroke-linejoin="round"/>
<path d="M1813.5 32.3L1814.2 42.1" stroke="#1a60f0" stroke-width="2.2" fill="none" stroke-linecap="round" stroke-linejoin="round"/>
<path d="M1823.2 35.1L1823.9 49.1" stroke="#1a60f0" stroke-width="2.2" fill="none" stroke-linecap="round" stroke-linejoin="round"/>
<path d="M1826.7 14.2L1826.7 28.1" stroke="#1a70f0" stroke-width="3.2" fill="none" stroke-linecap="round" stroke-linejoin="round"/>
<path d="M1830.9 29.5L1830.9 40.7" stroke="#1a70f0" stroke-width="2.0" fill="none" stroke-linecap="round" stroke-linejoin="round"/>
<path d="M1815.6 58.8L1815.6 61.9" stroke="#1a60f0" stroke-width="2.4" fill="none" stroke-linecap="round" stroke-linejoin="round"/>
<path d="M1826.7 56.0h0" stroke="#1a60f0" stroke-width="3.2" fill="none" stroke-linecap="round"/>
<path d="M1837.9 15.6L1837.9 29.5" stroke="#1a80f0" stroke-width="1.8" fill="none" stroke-linecap="round" stroke-linejoin="round"/>
<path d="M1848.4 60.2L1848.6 67.2" stroke="#18a0f0" stroke-width="2.4" fill="none" stroke-linecap="round" stroke-linejoin="round"/>
<path d="M1853.9 24.6L1854.2 43.5" stroke="#18a8f0" stroke-width="1.8" fill="none" stroke-linecap="round" stroke-linejoin="round"/>
<path d="M1863.7 17.0L1864.4 51.9L1862.3 56.0" stroke="#18b0e8" stroke-width="3.4" fill="none" stroke-linecap="round" stroke-linejoin="round"/>
<path d="M1863.7 63.0L1864.0 88.1" stroke="#18b0e8" stroke-width="2.0" fill="none" stroke-linecap="round" stroke-linejoin="round"/>
<path d="M1874.2 29.5L1874.2 56.0" stroke="#20c0d8" stroke-width="1.8" fill="none" stroke-linecap="round" stroke-linejoin="round"/>
<path d="M1873.5 65.8L1886.0 66.9" stroke="#20c0d8" stroke-width="1.8" fill="none" stroke-linecap="round" stroke-linejoin="round"/>
<path d="M1888.1 28.1L1887.4 60.2" stroke="#20c8d0" stroke-width="2.0" fill="none" stroke-linecap="round" stroke-linejoin="round"/>
<path d="M1903.9 16.3L1903.5 57.4L1902.1 64.4" stroke="#28d0c0" stroke-width="2.8" fill="none" stroke-linecap="round" stroke-linejoin="round"/>
<path d="M1923.7 15.6L1924.0 47.7" stroke="#38e0a8" stroke-width="3.0" fill="none" stroke-linecap="round" stroke-linejoin="round"/>
<path d="M1924.0 53.2L1924.4 89.5" stroke="#38e0a8" stroke-width="3.0" fill="none" stroke-linecap="round" stroke-linejoin="round"/>
<path d="M1940.1 23.3L1940.4 68.6" stroke="#50e890" stroke-width="2.4" fill="none" stroke-linecap="round" stroke-linejoin="round"/>
<path d="M1929.3 77.0L1937.6 78.4L1944.6 78.4L1950.2 74.2L1957.2 72.8L1968.3 75.6" stroke="#60e880" stroke-width="2.6" fill="none" stroke-linecap="round" stroke-linejoin="round"/>
<path d="M1929.3 86.7L1943.2 86.7L1960.0 86.7" stroke="#60e880" stroke-width="2.0" fill="none" stroke-linecap="round" stroke-linejoin="round"/>
<path d="M1948.8 67.2L1960.0 65.8" stroke="#60e880" stroke-width="2.2" fill="none" stroke-linecap="round" stroke-linejoin="round"/>
<path d="M1955.8 63.0L1955.8 78.4" stroke="#60e880" stroke-width="2.6" fill="none" stroke-linecap="round" stroke-linejoin="round"/>
<path d="M1932.1 70.0h0M1934.8 82.5h0M1965.5 72.8h0M1966.9 78.4h0M1940.4 28.1h0M1954.4 58.1h0" stroke="#60e880" stroke-width="2.8" fill="none" stroke-linecap="round"/>
<path d="M1978.1 15.6L1978.8 81.2" stroke="#8aec50" stroke-width="3.4" fill="none" stroke-linecap="round" stroke-linejoin="round"/>
<path d="M1978.8 88.8h0M1990.7 60.2h0" stroke="#8aec50" stroke-width="3.2" fill="none" stroke-linecap="round"/>
<path d="M1727.7 91.6h0" stroke="#201040" stroke-width="2.8" fill="none" stroke-linecap="round"/>
</svg></body></html>
